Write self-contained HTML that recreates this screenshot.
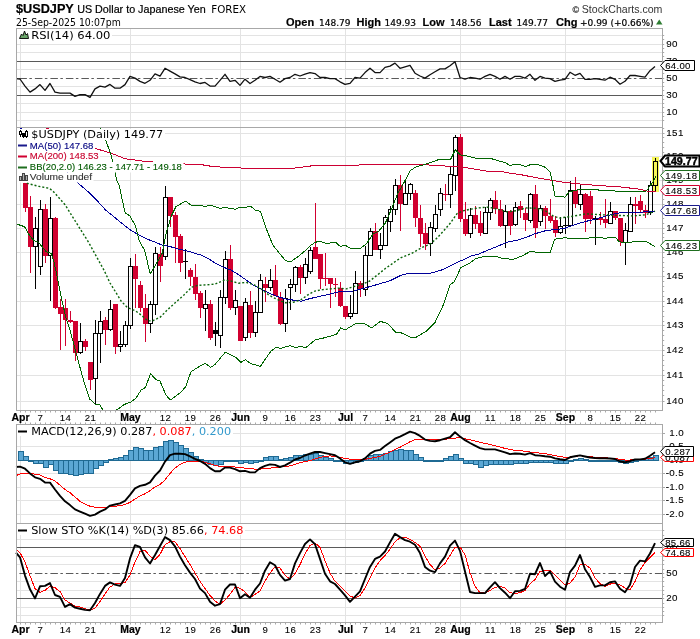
<!DOCTYPE html>
<html><head><meta charset="utf-8"><title>$USDJPY chart</title>
<style>html,body{margin:0;padding:0;background:#fff;width:700px;height:639px;overflow:hidden}</style>
</head><body>
<svg width="700" height="639" viewBox="0 0 700 639" style="display:block">
<rect width="700" height="639" fill="#fff"/>
<text x="16" y="13" font-family="'Liberation Sans', Arial, sans-serif" font-size="12.7" font-weight="bold" fill="#000" stroke="#000" stroke-width="0.2" text-anchor="start">$USDJPY</text>
<text x="77.2" y="13" font-family="'Liberation Sans', Arial, sans-serif" font-size="10.75" font-weight="normal" fill="#000" stroke="#000" stroke-width="0.2" text-anchor="start">US Dollar to Japanese Yen</text>
<text x="211.3" y="12.9" font-family="'DejaVu Sans', sans-serif" font-size="9.6" font-weight="normal" fill="#000" stroke="#000" stroke-width="0.0" text-anchor="start" textLength="34.8" lengthAdjust="spacingAndGlyphs">FOREX</text>
<text x="572.6" y="12.6" font-family="'Liberation Sans', Arial, sans-serif" font-size="9" font-weight="normal" fill="#333" stroke="#333" stroke-width="0.2" text-anchor="start">&#169;</text>
<text x="581.8" y="12.8" font-family="'Liberation Sans', Arial, sans-serif" font-size="10.5" font-weight="normal" fill="#333" stroke="#333" stroke-width="0.0" text-anchor="start" textLength="80.6" lengthAdjust="spacingAndGlyphs">StockCharts.com</text>
<text x="16" y="25.6" font-family="'DejaVu Sans', sans-serif" font-size="9.6" font-weight="normal" fill="#000" stroke="#000" stroke-width="0.0" text-anchor="start" textLength="104.8" lengthAdjust="spacingAndGlyphs">25-Sep-2025 10:07pm</text>
<text x="286" y="25.6" font-family="'Liberation Sans', Arial, sans-serif" font-size="11" font-weight="bold" fill="#000" stroke="#000" stroke-width="0.2" text-anchor="start">Open</text>
<text x="319" y="25.6" font-family="'DejaVu Sans', sans-serif" font-size="9" font-weight="normal" fill="#000" stroke="#000" stroke-width="0.2" text-anchor="start">148.79</text>
<text x="356.5" y="25.6" font-family="'Liberation Sans', Arial, sans-serif" font-size="11" font-weight="bold" fill="#000" stroke="#000" stroke-width="0.2" text-anchor="start">High</text>
<text x="384.5" y="25.6" font-family="'DejaVu Sans', sans-serif" font-size="9" font-weight="normal" fill="#000" stroke="#000" stroke-width="0.2" text-anchor="start">149.93</text>
<text x="422.5" y="25.6" font-family="'Liberation Sans', Arial, sans-serif" font-size="11" font-weight="bold" fill="#000" stroke="#000" stroke-width="0.2" text-anchor="start">Low</text>
<text x="450" y="25.6" font-family="'DejaVu Sans', sans-serif" font-size="9" font-weight="normal" fill="#000" stroke="#000" stroke-width="0.2" text-anchor="start">148.56</text>
<text x="489" y="25.6" font-family="'Liberation Sans', Arial, sans-serif" font-size="11" font-weight="bold" fill="#000" stroke="#000" stroke-width="0.2" text-anchor="start">Last</text>
<text x="516.5" y="25.6" font-family="'DejaVu Sans', sans-serif" font-size="9" font-weight="normal" fill="#000" stroke="#000" stroke-width="0.2" text-anchor="start">149.77</text>
<text x="556" y="25.6" font-family="'Liberation Sans', Arial, sans-serif" font-size="11" font-weight="bold" fill="#000" stroke="#000" stroke-width="0.2" text-anchor="start">Chg</text>
<text x="580" y="25.6" font-family="'DejaVu Sans', sans-serif" font-size="9" font-weight="normal" fill="#000" stroke="#000" stroke-width="0.2" text-anchor="start">+0.99 (+0.66%)</text>
<polygon points="656,24.5 662.5,24.5 659.25,19.5" fill="#2e7d32"/>
<line x1="16" y1="35.5" x2="663" y2="35.5" stroke="#e3e3e3" stroke-width="1"/>
<line x1="16" y1="44.5" x2="663" y2="44.5" stroke="#e3e3e3" stroke-width="1"/>
<line x1="16" y1="52.5" x2="663" y2="52.5" stroke="#e3e3e3" stroke-width="1"/>
<line x1="16" y1="69.5" x2="663" y2="69.5" stroke="#e3e3e3" stroke-width="1"/>
<line x1="16" y1="86.5" x2="663" y2="86.5" stroke="#e3e3e3" stroke-width="1"/>
<line x1="16" y1="103.5" x2="663" y2="103.5" stroke="#e3e3e3" stroke-width="1"/>
<line x1="16" y1="112.5" x2="663" y2="112.5" stroke="#e3e3e3" stroke-width="1"/>
<line x1="16" y1="120.5" x2="663" y2="120.5" stroke="#e3e3e3" stroke-width="1"/>
<line x1="20.5" y1="28" x2="20.5" y2="128" stroke="#e3e3e3" stroke-width="1"/>
<line x1="130.5" y1="28" x2="130.5" y2="128" stroke="#e3e3e3" stroke-width="1"/>
<line x1="240.5" y1="28" x2="240.5" y2="128" stroke="#e3e3e3" stroke-width="1"/>
<line x1="345.5" y1="28" x2="345.5" y2="128" stroke="#e3e3e3" stroke-width="1"/>
<line x1="460.5" y1="28" x2="460.5" y2="128" stroke="#e3e3e3" stroke-width="1"/>
<line x1="565.5" y1="28" x2="565.5" y2="128" stroke="#e3e3e3" stroke-width="1"/>
<line x1="16" y1="401.5" x2="663" y2="401.5" stroke="#e3e3e3" stroke-width="1"/>
<line x1="16" y1="375.5" x2="663" y2="375.5" stroke="#e3e3e3" stroke-width="1"/>
<line x1="16" y1="350.5" x2="663" y2="350.5" stroke="#e3e3e3" stroke-width="1"/>
<line x1="16" y1="325.5" x2="663" y2="325.5" stroke="#e3e3e3" stroke-width="1"/>
<line x1="16" y1="301.5" x2="663" y2="301.5" stroke="#e3e3e3" stroke-width="1"/>
<line x1="16" y1="276.5" x2="663" y2="276.5" stroke="#e3e3e3" stroke-width="1"/>
<line x1="16" y1="252.5" x2="663" y2="252.5" stroke="#e3e3e3" stroke-width="1"/>
<line x1="16" y1="228.5" x2="663" y2="228.5" stroke="#e3e3e3" stroke-width="1"/>
<line x1="16" y1="204.5" x2="663" y2="204.5" stroke="#e3e3e3" stroke-width="1"/>
<line x1="16" y1="180.5" x2="663" y2="180.5" stroke="#e3e3e3" stroke-width="1"/>
<line x1="16" y1="156.5" x2="663" y2="156.5" stroke="#e3e3e3" stroke-width="1"/>
<line x1="16" y1="133.5" x2="663" y2="133.5" stroke="#e3e3e3" stroke-width="1"/>
<line x1="20.5" y1="127" x2="20.5" y2="411" stroke="#e3e3e3" stroke-width="1"/>
<line x1="130.5" y1="127" x2="130.5" y2="411" stroke="#e3e3e3" stroke-width="1"/>
<line x1="240.5" y1="127" x2="240.5" y2="411" stroke="#e3e3e3" stroke-width="1"/>
<line x1="345.5" y1="127" x2="345.5" y2="411" stroke="#e3e3e3" stroke-width="1"/>
<line x1="460.5" y1="127" x2="460.5" y2="411" stroke="#e3e3e3" stroke-width="1"/>
<line x1="565.5" y1="127" x2="565.5" y2="411" stroke="#e3e3e3" stroke-width="1"/>
<line x1="16" y1="433.5" x2="663" y2="433.5" stroke="#e3e3e3" stroke-width="1"/>
<line x1="16" y1="446.5" x2="663" y2="446.5" stroke="#e3e3e3" stroke-width="1"/>
<line x1="16" y1="460.5" x2="663" y2="460.5" stroke="#e3e3e3" stroke-width="1"/>
<line x1="16" y1="473.5" x2="663" y2="473.5" stroke="#e3e3e3" stroke-width="1"/>
<line x1="16" y1="487.5" x2="663" y2="487.5" stroke="#e3e3e3" stroke-width="1"/>
<line x1="16" y1="500.5" x2="663" y2="500.5" stroke="#e3e3e3" stroke-width="1"/>
<line x1="16" y1="514.5" x2="663" y2="514.5" stroke="#e3e3e3" stroke-width="1"/>
<line x1="20.5" y1="424" x2="20.5" y2="524" stroke="#e3e3e3" stroke-width="1"/>
<line x1="130.5" y1="424" x2="130.5" y2="524" stroke="#e3e3e3" stroke-width="1"/>
<line x1="240.5" y1="424" x2="240.5" y2="524" stroke="#e3e3e3" stroke-width="1"/>
<line x1="345.5" y1="424" x2="345.5" y2="524" stroke="#e3e3e3" stroke-width="1"/>
<line x1="460.5" y1="424" x2="460.5" y2="524" stroke="#e3e3e3" stroke-width="1"/>
<line x1="565.5" y1="424" x2="565.5" y2="524" stroke="#e3e3e3" stroke-width="1"/>
<line x1="16" y1="530.5" x2="663" y2="530.5" stroke="#e3e3e3" stroke-width="1"/>
<line x1="16" y1="539.5" x2="663" y2="539.5" stroke="#e3e3e3" stroke-width="1"/>
<line x1="16" y1="556.5" x2="663" y2="556.5" stroke="#e3e3e3" stroke-width="1"/>
<line x1="16" y1="564.5" x2="663" y2="564.5" stroke="#e3e3e3" stroke-width="1"/>
<line x1="16" y1="581.5" x2="663" y2="581.5" stroke="#e3e3e3" stroke-width="1"/>
<line x1="16" y1="590.5" x2="663" y2="590.5" stroke="#e3e3e3" stroke-width="1"/>
<line x1="16" y1="607.5" x2="663" y2="607.5" stroke="#e3e3e3" stroke-width="1"/>
<line x1="16" y1="615.5" x2="663" y2="615.5" stroke="#e3e3e3" stroke-width="1"/>
<line x1="20.5" y1="523" x2="20.5" y2="623" stroke="#e3e3e3" stroke-width="1"/>
<line x1="130.5" y1="523" x2="130.5" y2="623" stroke="#e3e3e3" stroke-width="1"/>
<line x1="240.5" y1="523" x2="240.5" y2="623" stroke="#e3e3e3" stroke-width="1"/>
<line x1="345.5" y1="523" x2="345.5" y2="623" stroke="#e3e3e3" stroke-width="1"/>
<line x1="460.5" y1="523" x2="460.5" y2="623" stroke="#e3e3e3" stroke-width="1"/>
<line x1="565.5" y1="523" x2="565.5" y2="623" stroke="#e3e3e3" stroke-width="1"/>
<line x1="16" y1="61.5" x2="663" y2="61.5" stroke="#5a5a5a" stroke-width="1"/>
<line x1="16" y1="95.5" x2="663" y2="95.5" stroke="#5a5a5a" stroke-width="1"/>
<line x1="16" y1="78.5" x2="663" y2="78.5" stroke="#5a5a5a" stroke-width="1" stroke-dasharray="7.5,2.5,2.5,3" stroke-dashoffset="12.1"/>
<polyline points="16.0,78.6 20.0,79.0 25.0,86.1 30.0,92.1 35.0,88.9 40.0,84.6 45.0,90.4 50.0,83.5 55.0,92.1 60.0,93.1 65.0,93.1 70.0,93.1 75.0,96.4 80.0,94.6 85.0,94.6 90.0,97.4 95.0,88.9 100.0,86.1 105.0,87.1 110.0,84.4 115.0,88.2 120.0,88.2 125.0,84.6 130.0,76.4 135.0,78.1 140.0,81.4 145.0,83.3 150.0,80.3 155.0,73.9 160.0,76.2 165.0,68.3 170.0,71.1 175.0,73.9 180.0,76.9 185.0,77.5 190.0,79.6 195.0,81.8 200.0,83.5 205.0,82.4 210.0,86.1 215.0,86.1 220.0,80.3 225.0,74.3 230.0,81.4 235.0,80.3 240.0,85.4 245.0,79.2 250.0,83.5 255.0,80.3 260.0,76.4 265.0,77.5 270.0,76.4 275.0,79.2 280.0,82.2 285.0,78.6 290.0,77.5 295.0,74.3 300.0,76.0 305.0,74.1 310.0,72.6 315.0,73.6 320.0,77.5 325.0,77.5 330.0,78.6 335.0,78.6 340.0,81.8 345.0,84.4 350.0,83.3 355.0,77.5 360.0,78.1 365.0,72.6 370.0,68.3 375.0,72.6 380.0,72.6 385.0,67.4 390.0,66.1 395.0,63.1 400.0,68.3 405.0,66.8 410.0,65.3 415.0,73.2 420.0,76.0 425.0,78.1 430.0,74.7 435.0,71.7 440.0,68.9 445.0,68.9 450.0,65.7 455.0,61.7 460.0,77.5 465.0,79.2 470.0,77.5 475.0,78.1 480.0,79.2 485.0,76.4 490.0,74.3 495.0,76.4 500.0,79.2 505.0,76.4 510.0,79.2 515.0,76.4 520.0,76.4 525.0,78.1 530.0,74.3 535.0,80.3 540.0,76.4 545.0,78.1 550.0,78.6 555.0,81.4 560.0,80.2 565.0,79.3 570.0,72.3 575.0,75.3 580.0,73.3 585.0,79.3 590.0,79.3 595.0,78.7 600.0,79.3 605.0,80.2 610.0,77.2 615.0,79.3 620.0,84.2 625.0,81.2 630.0,75.5 635.0,75.5 640.0,76.3 645.0,77.2 650.0,70.7 655.0,66.4" fill="none" stroke="#111" stroke-width="1.3" stroke-linejoin="round" shape-rendering="geometricPrecision"/>
<clipPath id="cm"><rect x="17" y="128" width="645" height="282"/></clipPath>
<g clip-path="url(#cm)">
<rect x="652" y="157" width="7" height="35" fill="#f7f75a"/>
<line x1="25.5" y1="183" x2="25.5" y2="212" stroke="#d10030" stroke-width="1"/>
<rect x="23" y="183" width="5" height="25" fill="#d10030"/>
<line x1="30.5" y1="196" x2="30.5" y2="273" stroke="#d10030" stroke-width="1"/>
<rect x="28" y="207" width="5" height="40" fill="#d10030"/>
<line x1="35.5" y1="217" x2="35.5" y2="228" stroke="#000" stroke-width="1"/>
<line x1="35.5" y1="247" x2="35.5" y2="289" stroke="#000" stroke-width="1"/>
<rect x="33.5" y="228.5" width="4" height="18" fill="none" stroke="#000" stroke-width="1"/>
<line x1="40.5" y1="200" x2="40.5" y2="209" stroke="#000" stroke-width="1"/>
<line x1="40.5" y1="267" x2="40.5" y2="275" stroke="#000" stroke-width="1"/>
<rect x="38.5" y="209.5" width="4" height="57" fill="none" stroke="#000" stroke-width="1"/>
<line x1="45.5" y1="204" x2="45.5" y2="263" stroke="#d10030" stroke-width="1"/>
<rect x="43" y="209" width="5" height="47" fill="#d10030"/>
<line x1="50.5" y1="197" x2="50.5" y2="218" stroke="#000" stroke-width="1"/>
<line x1="50.5" y1="256" x2="50.5" y2="301" stroke="#000" stroke-width="1"/>
<rect x="48.5" y="218.5" width="4" height="37" fill="none" stroke="#000" stroke-width="1"/>
<line x1="55.5" y1="217" x2="55.5" y2="309" stroke="#d10030" stroke-width="1"/>
<rect x="53" y="218" width="5" height="90" fill="#d10030"/>
<line x1="60.5" y1="299" x2="60.5" y2="350" stroke="#d10030" stroke-width="1"/>
<rect x="58" y="307" width="5" height="7" fill="#d10030"/>
<line x1="65.5" y1="299" x2="65.5" y2="346" stroke="#d10030" stroke-width="1"/>
<rect x="63" y="308" width="5" height="12" fill="#d10030"/>
<line x1="70.5" y1="311" x2="70.5" y2="323" stroke="#d10030" stroke-width="1"/>
<rect x="68" y="320" width="5" height="2" fill="#d10030"/>
<line x1="75.5" y1="321" x2="75.5" y2="361" stroke="#d10030" stroke-width="1"/>
<rect x="73" y="321" width="5" height="32" fill="#d10030"/>
<line x1="80.5" y1="323" x2="80.5" y2="341" stroke="#000" stroke-width="1"/>
<line x1="80.5" y1="353" x2="80.5" y2="354" stroke="#000" stroke-width="1"/>
<rect x="78.5" y="341.5" width="4" height="11" fill="none" stroke="#000" stroke-width="1"/>
<line x1="85.5" y1="339" x2="85.5" y2="351" stroke="#d10030" stroke-width="1"/>
<rect x="83" y="341" width="5" height="6" fill="#d10030"/>
<line x1="90.5" y1="362" x2="90.5" y2="390" stroke="#d10030" stroke-width="1"/>
<rect x="88" y="362" width="5" height="18" fill="#d10030"/>
<line x1="95.5" y1="320" x2="95.5" y2="333" stroke="#000" stroke-width="1"/>
<line x1="95.5" y1="379" x2="95.5" y2="404" stroke="#000" stroke-width="1"/>
<rect x="93.5" y="333.5" width="4" height="45" fill="none" stroke="#000" stroke-width="1"/>
<line x1="100.5" y1="311" x2="100.5" y2="321" stroke="#000" stroke-width="1"/>
<line x1="100.5" y1="334" x2="100.5" y2="363" stroke="#000" stroke-width="1"/>
<rect x="98.5" y="321.5" width="4" height="12" fill="none" stroke="#000" stroke-width="1"/>
<line x1="105.5" y1="317" x2="105.5" y2="345" stroke="#d10030" stroke-width="1"/>
<rect x="103" y="320" width="5" height="10" fill="#d10030"/>
<line x1="110.5" y1="300" x2="110.5" y2="309" stroke="#000" stroke-width="1"/>
<line x1="110.5" y1="330" x2="110.5" y2="331" stroke="#000" stroke-width="1"/>
<rect x="108.5" y="309.5" width="4" height="20" fill="none" stroke="#000" stroke-width="1"/>
<line x1="115.5" y1="304" x2="115.5" y2="354" stroke="#d10030" stroke-width="1"/>
<rect x="113" y="304" width="5" height="43" fill="#d10030"/>
<line x1="120.5" y1="331" x2="120.5" y2="344" stroke="#000" stroke-width="1"/>
<line x1="120.5" y1="347" x2="120.5" y2="352" stroke="#000" stroke-width="1"/>
<rect x="118.5" y="344.5" width="4" height="2" fill="none" stroke="#000" stroke-width="1"/>
<line x1="125.5" y1="321" x2="125.5" y2="325" stroke="#000" stroke-width="1"/>
<line x1="125.5" y1="345" x2="125.5" y2="347" stroke="#000" stroke-width="1"/>
<rect x="123.5" y="325.5" width="4" height="19" fill="none" stroke="#000" stroke-width="1"/>
<line x1="130.5" y1="258" x2="130.5" y2="266" stroke="#000" stroke-width="1"/>
<line x1="130.5" y1="326" x2="130.5" y2="329" stroke="#000" stroke-width="1"/>
<rect x="128.5" y="266.5" width="4" height="59" fill="none" stroke="#000" stroke-width="1"/>
<line x1="135.5" y1="254" x2="135.5" y2="308" stroke="#d10030" stroke-width="1"/>
<rect x="133" y="266" width="5" height="13" fill="#d10030"/>
<line x1="140.5" y1="281" x2="140.5" y2="312" stroke="#d10030" stroke-width="1"/>
<rect x="138" y="285" width="5" height="23" fill="#d10030"/>
<line x1="145.5" y1="294" x2="145.5" y2="342" stroke="#d10030" stroke-width="1"/>
<rect x="143" y="308" width="5" height="16" fill="#d10030"/>
<line x1="150.5" y1="301" x2="150.5" y2="304" stroke="#000" stroke-width="1"/>
<line x1="150.5" y1="324" x2="150.5" y2="333" stroke="#000" stroke-width="1"/>
<rect x="148.5" y="304.5" width="4" height="19" fill="none" stroke="#000" stroke-width="1"/>
<line x1="155.5" y1="247" x2="155.5" y2="253" stroke="#000" stroke-width="1"/>
<line x1="155.5" y1="305" x2="155.5" y2="315" stroke="#000" stroke-width="1"/>
<rect x="153.5" y="253.5" width="4" height="51" fill="none" stroke="#000" stroke-width="1"/>
<line x1="160.5" y1="247" x2="160.5" y2="282" stroke="#d10030" stroke-width="1"/>
<rect x="158" y="254" width="5" height="12" fill="#d10030"/>
<line x1="165.5" y1="186" x2="165.5" y2="197" stroke="#000" stroke-width="1"/>
<line x1="165.5" y1="257" x2="165.5" y2="260" stroke="#000" stroke-width="1"/>
<rect x="163.5" y="197.5" width="4" height="59" fill="none" stroke="#000" stroke-width="1"/>
<line x1="170.5" y1="197" x2="170.5" y2="227" stroke="#d10030" stroke-width="1"/>
<rect x="168" y="197" width="5" height="19" fill="#d10030"/>
<line x1="175.5" y1="212" x2="175.5" y2="263" stroke="#d10030" stroke-width="1"/>
<rect x="173" y="215" width="5" height="22" fill="#d10030"/>
<line x1="180.5" y1="234" x2="180.5" y2="272" stroke="#d10030" stroke-width="1"/>
<rect x="178" y="236" width="5" height="27" fill="#d10030"/>
<line x1="185.5" y1="249" x2="185.5" y2="279" stroke="#000" stroke-width="1"/>
<rect x="183" y="261" width="5" height="1" fill="#000"/>
<line x1="190.5" y1="268" x2="190.5" y2="286" stroke="#d10030" stroke-width="1"/>
<rect x="188" y="270" width="5" height="7" fill="#d10030"/>
<line x1="195.5" y1="264" x2="195.5" y2="300" stroke="#d10030" stroke-width="1"/>
<rect x="193" y="277" width="5" height="17" fill="#d10030"/>
<line x1="200.5" y1="291" x2="200.5" y2="318" stroke="#d10030" stroke-width="1"/>
<rect x="198" y="293" width="5" height="15" fill="#d10030"/>
<line x1="205.5" y1="290" x2="205.5" y2="304" stroke="#000" stroke-width="1"/>
<line x1="205.5" y1="309" x2="205.5" y2="331" stroke="#000" stroke-width="1"/>
<rect x="203.5" y="304.5" width="4" height="4" fill="none" stroke="#000" stroke-width="1"/>
<line x1="210.5" y1="300" x2="210.5" y2="340" stroke="#d10030" stroke-width="1"/>
<rect x="208" y="304" width="5" height="34" fill="#d10030"/>
<line x1="215.5" y1="322" x2="215.5" y2="346" stroke="#000" stroke-width="1"/>
<rect x="213" y="330" width="5" height="4" fill="#000"/>
<line x1="220.5" y1="290" x2="220.5" y2="297" stroke="#000" stroke-width="1"/>
<line x1="220.5" y1="336" x2="220.5" y2="348" stroke="#000" stroke-width="1"/>
<rect x="218.5" y="297.5" width="4" height="38" fill="none" stroke="#000" stroke-width="1"/>
<line x1="225.5" y1="251" x2="225.5" y2="259" stroke="#000" stroke-width="1"/>
<line x1="225.5" y1="298" x2="225.5" y2="304" stroke="#000" stroke-width="1"/>
<rect x="223.5" y="259.5" width="4" height="38" fill="none" stroke="#000" stroke-width="1"/>
<line x1="230.5" y1="245" x2="230.5" y2="310" stroke="#d10030" stroke-width="1"/>
<rect x="228" y="259" width="5" height="49" fill="#d10030"/>
<line x1="235.5" y1="290" x2="235.5" y2="300" stroke="#000" stroke-width="1"/>
<line x1="235.5" y1="308" x2="235.5" y2="315" stroke="#000" stroke-width="1"/>
<rect x="233.5" y="300.5" width="4" height="7" fill="none" stroke="#000" stroke-width="1"/>
<line x1="240.5" y1="306" x2="240.5" y2="341" stroke="#d10030" stroke-width="1"/>
<rect x="238" y="306" width="5" height="35" fill="#d10030"/>
<line x1="245.5" y1="298" x2="245.5" y2="302" stroke="#000" stroke-width="1"/>
<line x1="245.5" y1="338" x2="245.5" y2="341" stroke="#000" stroke-width="1"/>
<rect x="243.5" y="302.5" width="4" height="35" fill="none" stroke="#000" stroke-width="1"/>
<line x1="250.5" y1="291" x2="250.5" y2="338" stroke="#d10030" stroke-width="1"/>
<rect x="248" y="305" width="5" height="28" fill="#d10030"/>
<line x1="255.5" y1="301" x2="255.5" y2="312" stroke="#000" stroke-width="1"/>
<line x1="255.5" y1="333" x2="255.5" y2="337" stroke="#000" stroke-width="1"/>
<rect x="253.5" y="312.5" width="4" height="20" fill="none" stroke="#000" stroke-width="1"/>
<line x1="260.5" y1="274" x2="260.5" y2="280" stroke="#000" stroke-width="1"/>
<rect x="258.5" y="280.5" width="4" height="32" fill="none" stroke="#000" stroke-width="1"/>
<line x1="265.5" y1="277" x2="265.5" y2="302" stroke="#d10030" stroke-width="1"/>
<rect x="263" y="284" width="5" height="4" fill="#d10030"/>
<line x1="270.5" y1="269" x2="270.5" y2="280" stroke="#000" stroke-width="1"/>
<line x1="270.5" y1="288" x2="270.5" y2="291" stroke="#000" stroke-width="1"/>
<rect x="268.5" y="280.5" width="4" height="7" fill="none" stroke="#000" stroke-width="1"/>
<line x1="275.5" y1="265" x2="275.5" y2="296" stroke="#d10030" stroke-width="1"/>
<rect x="273" y="280" width="5" height="16" fill="#d10030"/>
<line x1="280.5" y1="292" x2="280.5" y2="325" stroke="#d10030" stroke-width="1"/>
<rect x="278" y="297" width="5" height="27" fill="#d10030"/>
<line x1="285.5" y1="289" x2="285.5" y2="298" stroke="#000" stroke-width="1"/>
<line x1="285.5" y1="324" x2="285.5" y2="332" stroke="#000" stroke-width="1"/>
<rect x="283.5" y="298.5" width="4" height="25" fill="none" stroke="#000" stroke-width="1"/>
<line x1="290.5" y1="279" x2="290.5" y2="284" stroke="#000" stroke-width="1"/>
<line x1="290.5" y1="288" x2="290.5" y2="310" stroke="#000" stroke-width="1"/>
<rect x="288.5" y="284.5" width="4" height="3" fill="none" stroke="#000" stroke-width="1"/>
<line x1="295.5" y1="266" x2="295.5" y2="267" stroke="#000" stroke-width="1"/>
<line x1="295.5" y1="285" x2="295.5" y2="292" stroke="#000" stroke-width="1"/>
<rect x="293.5" y="267.5" width="4" height="17" fill="none" stroke="#000" stroke-width="1"/>
<line x1="300.5" y1="265" x2="300.5" y2="294" stroke="#d10030" stroke-width="1"/>
<rect x="298" y="267" width="5" height="11" fill="#d10030"/>
<line x1="305.5" y1="258" x2="305.5" y2="264" stroke="#000" stroke-width="1"/>
<line x1="305.5" y1="278" x2="305.5" y2="284" stroke="#000" stroke-width="1"/>
<rect x="303.5" y="264.5" width="4" height="13" fill="none" stroke="#000" stroke-width="1"/>
<line x1="310.5" y1="247" x2="310.5" y2="250" stroke="#000" stroke-width="1"/>
<line x1="310.5" y1="272" x2="310.5" y2="274" stroke="#000" stroke-width="1"/>
<rect x="308.5" y="250.5" width="4" height="21" fill="none" stroke="#000" stroke-width="1"/>
<line x1="315.5" y1="203" x2="315.5" y2="259" stroke="#d10030" stroke-width="1"/>
<rect x="313" y="247" width="5" height="12" fill="#d10030"/>
<line x1="320.5" y1="254" x2="320.5" y2="289" stroke="#d10030" stroke-width="1"/>
<rect x="318" y="254" width="5" height="25" fill="#d10030"/>
<line x1="325.5" y1="253" x2="325.5" y2="286" stroke="#d10030" stroke-width="1"/>
<rect x="323" y="278" width="5" height="1" fill="#d10030"/>
<line x1="330.5" y1="278" x2="330.5" y2="308" stroke="#d10030" stroke-width="1"/>
<rect x="328" y="278" width="5" height="6" fill="#d10030"/>
<line x1="335.5" y1="278" x2="335.5" y2="297" stroke="#d10030" stroke-width="1"/>
<rect x="333" y="284" width="5" height="1" fill="#d10030"/>
<line x1="340.5" y1="282" x2="340.5" y2="307" stroke="#d10030" stroke-width="1"/>
<rect x="338" y="288" width="5" height="18" fill="#d10030"/>
<line x1="345.5" y1="306" x2="345.5" y2="319" stroke="#d10030" stroke-width="1"/>
<rect x="343" y="306" width="5" height="11" fill="#d10030"/>
<line x1="350.5" y1="295" x2="350.5" y2="313" stroke="#000" stroke-width="1"/>
<line x1="350.5" y1="317" x2="350.5" y2="319" stroke="#000" stroke-width="1"/>
<rect x="348.5" y="313.5" width="4" height="3" fill="none" stroke="#000" stroke-width="1"/>
<line x1="355.5" y1="271" x2="355.5" y2="283" stroke="#000" stroke-width="1"/>
<rect x="353.5" y="283.5" width="4" height="30" fill="none" stroke="#000" stroke-width="1"/>
<line x1="360.5" y1="281" x2="360.5" y2="297" stroke="#d10030" stroke-width="1"/>
<rect x="358" y="283" width="5" height="6" fill="#d10030"/>
<line x1="365.5" y1="246" x2="365.5" y2="255" stroke="#000" stroke-width="1"/>
<line x1="365.5" y1="290" x2="365.5" y2="296" stroke="#000" stroke-width="1"/>
<rect x="363.5" y="255.5" width="4" height="34" fill="none" stroke="#000" stroke-width="1"/>
<line x1="370.5" y1="228" x2="370.5" y2="231" stroke="#000" stroke-width="1"/>
<rect x="368.5" y="231.5" width="4" height="24" fill="none" stroke="#000" stroke-width="1"/>
<line x1="375.5" y1="223" x2="375.5" y2="250" stroke="#d10030" stroke-width="1"/>
<rect x="373" y="231" width="5" height="19" fill="#d10030"/>
<line x1="380.5" y1="233" x2="380.5" y2="245" stroke="#000" stroke-width="1"/>
<line x1="380.5" y1="250" x2="380.5" y2="259" stroke="#000" stroke-width="1"/>
<rect x="378.5" y="245.5" width="4" height="4" fill="none" stroke="#000" stroke-width="1"/>
<line x1="385.5" y1="215" x2="385.5" y2="217" stroke="#000" stroke-width="1"/>
<rect x="383.5" y="217.5" width="4" height="28" fill="none" stroke="#000" stroke-width="1"/>
<line x1="390.5" y1="206" x2="390.5" y2="209" stroke="#000" stroke-width="1"/>
<line x1="390.5" y1="222" x2="390.5" y2="232" stroke="#000" stroke-width="1"/>
<rect x="388.5" y="209.5" width="4" height="12" fill="none" stroke="#000" stroke-width="1"/>
<line x1="395.5" y1="179" x2="395.5" y2="185" stroke="#000" stroke-width="1"/>
<line x1="395.5" y1="210" x2="395.5" y2="215" stroke="#000" stroke-width="1"/>
<rect x="393.5" y="185.5" width="4" height="24" fill="none" stroke="#000" stroke-width="1"/>
<line x1="400.5" y1="175" x2="400.5" y2="231" stroke="#d10030" stroke-width="1"/>
<rect x="398" y="185" width="5" height="19" fill="#d10030"/>
<line x1="405.5" y1="179" x2="405.5" y2="193" stroke="#000" stroke-width="1"/>
<rect x="403.5" y="193.5" width="4" height="11" fill="none" stroke="#000" stroke-width="1"/>
<line x1="410.5" y1="183" x2="410.5" y2="184" stroke="#000" stroke-width="1"/>
<line x1="410.5" y1="194" x2="410.5" y2="200" stroke="#000" stroke-width="1"/>
<rect x="408.5" y="184.5" width="4" height="9" fill="none" stroke="#000" stroke-width="1"/>
<line x1="415.5" y1="190" x2="415.5" y2="227" stroke="#d10030" stroke-width="1"/>
<rect x="413" y="193" width="5" height="25" fill="#d10030"/>
<line x1="420.5" y1="205" x2="420.5" y2="247" stroke="#d10030" stroke-width="1"/>
<rect x="418" y="218" width="5" height="16" fill="#d10030"/>
<line x1="425.5" y1="223" x2="425.5" y2="250" stroke="#d10030" stroke-width="1"/>
<rect x="423" y="233" width="5" height="11" fill="#d10030"/>
<line x1="430.5" y1="222" x2="430.5" y2="227" stroke="#000" stroke-width="1"/>
<line x1="430.5" y1="244" x2="430.5" y2="256" stroke="#000" stroke-width="1"/>
<rect x="428.5" y="227.5" width="4" height="16" fill="none" stroke="#000" stroke-width="1"/>
<line x1="435.5" y1="205" x2="435.5" y2="214" stroke="#000" stroke-width="1"/>
<line x1="435.5" y1="229" x2="435.5" y2="232" stroke="#000" stroke-width="1"/>
<rect x="433.5" y="214.5" width="4" height="14" fill="none" stroke="#000" stroke-width="1"/>
<line x1="440.5" y1="188" x2="440.5" y2="193" stroke="#000" stroke-width="1"/>
<line x1="440.5" y1="210" x2="440.5" y2="216" stroke="#000" stroke-width="1"/>
<rect x="438.5" y="193.5" width="4" height="16" fill="none" stroke="#000" stroke-width="1"/>
<line x1="445.5" y1="184" x2="445.5" y2="201" stroke="#d10030" stroke-width="1"/>
<rect x="443" y="194" width="5" height="1" fill="#d10030"/>
<line x1="450.5" y1="167" x2="450.5" y2="174" stroke="#000" stroke-width="1"/>
<line x1="450.5" y1="195" x2="450.5" y2="208" stroke="#000" stroke-width="1"/>
<rect x="448.5" y="174.5" width="4" height="20" fill="none" stroke="#000" stroke-width="1"/>
<line x1="455.5" y1="135" x2="455.5" y2="137" stroke="#000" stroke-width="1"/>
<line x1="455.5" y1="176" x2="455.5" y2="191" stroke="#000" stroke-width="1"/>
<rect x="453.5" y="137.5" width="4" height="38" fill="none" stroke="#000" stroke-width="1"/>
<line x1="460.5" y1="134" x2="460.5" y2="222" stroke="#d10030" stroke-width="1"/>
<rect x="458" y="137" width="5" height="82" fill="#d10030"/>
<line x1="465.5" y1="202" x2="465.5" y2="236" stroke="#d10030" stroke-width="1"/>
<rect x="463" y="219" width="5" height="15" fill="#d10030"/>
<line x1="470.5" y1="208" x2="470.5" y2="215" stroke="#000" stroke-width="1"/>
<line x1="470.5" y1="234" x2="470.5" y2="238" stroke="#000" stroke-width="1"/>
<rect x="468.5" y="215.5" width="4" height="18" fill="none" stroke="#000" stroke-width="1"/>
<line x1="475.5" y1="206" x2="475.5" y2="229" stroke="#d10030" stroke-width="1"/>
<rect x="473" y="215" width="5" height="9" fill="#d10030"/>
<line x1="480.5" y1="211" x2="480.5" y2="236" stroke="#d10030" stroke-width="1"/>
<rect x="478" y="223" width="5" height="10" fill="#d10030"/>
<line x1="485.5" y1="207" x2="485.5" y2="212" stroke="#000" stroke-width="1"/>
<rect x="483.5" y="212.5" width="4" height="21" fill="none" stroke="#000" stroke-width="1"/>
<line x1="490.5" y1="198" x2="490.5" y2="200" stroke="#000" stroke-width="1"/>
<line x1="490.5" y1="213" x2="490.5" y2="220" stroke="#000" stroke-width="1"/>
<rect x="488.5" y="200.5" width="4" height="12" fill="none" stroke="#000" stroke-width="1"/>
<line x1="495.5" y1="191" x2="495.5" y2="214" stroke="#d10030" stroke-width="1"/>
<rect x="493" y="200" width="5" height="9" fill="#d10030"/>
<line x1="500.5" y1="200" x2="500.5" y2="227" stroke="#d10030" stroke-width="1"/>
<rect x="498" y="209" width="5" height="17" fill="#d10030"/>
<line x1="505.5" y1="205" x2="505.5" y2="211" stroke="#000" stroke-width="1"/>
<line x1="505.5" y1="226" x2="505.5" y2="248" stroke="#000" stroke-width="1"/>
<rect x="503.5" y="211.5" width="4" height="14" fill="none" stroke="#000" stroke-width="1"/>
<line x1="510.5" y1="210" x2="510.5" y2="235" stroke="#d10030" stroke-width="1"/>
<rect x="508" y="211" width="5" height="15" fill="#d10030"/>
<line x1="515.5" y1="202" x2="515.5" y2="207" stroke="#000" stroke-width="1"/>
<line x1="515.5" y1="225" x2="515.5" y2="226" stroke="#000" stroke-width="1"/>
<rect x="513.5" y="207.5" width="4" height="17" fill="none" stroke="#000" stroke-width="1"/>
<line x1="520.5" y1="201" x2="520.5" y2="218" stroke="#d10030" stroke-width="1"/>
<rect x="518" y="206" width="5" height="4" fill="#d10030"/>
<line x1="525.5" y1="208" x2="525.5" y2="231" stroke="#d10030" stroke-width="1"/>
<rect x="523" y="213" width="5" height="7" fill="#d10030"/>
<line x1="530.5" y1="193" x2="530.5" y2="194" stroke="#000" stroke-width="1"/>
<line x1="530.5" y1="221" x2="530.5" y2="223" stroke="#000" stroke-width="1"/>
<rect x="528.5" y="194.5" width="4" height="26" fill="none" stroke="#000" stroke-width="1"/>
<line x1="535.5" y1="185" x2="535.5" y2="238" stroke="#d10030" stroke-width="1"/>
<rect x="533" y="194" width="5" height="34" fill="#d10030"/>
<line x1="540.5" y1="205" x2="540.5" y2="208" stroke="#000" stroke-width="1"/>
<line x1="540.5" y1="222" x2="540.5" y2="226" stroke="#000" stroke-width="1"/>
<rect x="538.5" y="208.5" width="4" height="13" fill="none" stroke="#000" stroke-width="1"/>
<line x1="545.5" y1="206" x2="545.5" y2="229" stroke="#d10030" stroke-width="1"/>
<rect x="543" y="208" width="5" height="8" fill="#d10030"/>
<line x1="550.5" y1="199" x2="550.5" y2="223" stroke="#d10030" stroke-width="1"/>
<rect x="548" y="216" width="5" height="5" fill="#d10030"/>
<line x1="555.5" y1="216" x2="555.5" y2="237" stroke="#d10030" stroke-width="1"/>
<rect x="553" y="220" width="5" height="13" fill="#d10030"/>
<line x1="560.5" y1="217" x2="560.5" y2="226" stroke="#000" stroke-width="1"/>
<line x1="560.5" y1="233" x2="560.5" y2="234" stroke="#000" stroke-width="1"/>
<rect x="558.5" y="226.5" width="4" height="6" fill="none" stroke="#000" stroke-width="1"/>
<line x1="565.5" y1="217" x2="565.5" y2="225" stroke="#000" stroke-width="1"/>
<line x1="565.5" y1="226" x2="565.5" y2="234" stroke="#000" stroke-width="1"/>
<rect x="563" y="225" width="5" height="1" fill="#000"/>
<line x1="570.5" y1="181" x2="570.5" y2="190" stroke="#000" stroke-width="1"/>
<rect x="568.5" y="190.5" width="4" height="35" fill="none" stroke="#000" stroke-width="1"/>
<line x1="575.5" y1="177" x2="575.5" y2="208" stroke="#d10030" stroke-width="1"/>
<rect x="573" y="190" width="5" height="14" fill="#d10030"/>
<line x1="580.5" y1="185" x2="580.5" y2="194" stroke="#000" stroke-width="1"/>
<line x1="580.5" y1="205" x2="580.5" y2="210" stroke="#000" stroke-width="1"/>
<rect x="578.5" y="194.5" width="4" height="10" fill="none" stroke="#000" stroke-width="1"/>
<line x1="585.5" y1="193" x2="585.5" y2="232" stroke="#d10030" stroke-width="1"/>
<rect x="583" y="194" width="5" height="25" fill="#d10030"/>
<line x1="590.5" y1="191" x2="590.5" y2="224" stroke="#d10030" stroke-width="1"/>
<rect x="588" y="196" width="5" height="23" fill="#d10030"/>
<line x1="595.5" y1="216" x2="595.5" y2="245" stroke="#000" stroke-width="1"/>
<rect x="593" y="218" width="5" height="2" fill="#000"/>
<line x1="600.5" y1="212" x2="600.5" y2="225" stroke="#d10030" stroke-width="1"/>
<rect x="598" y="218" width="5" height="2" fill="#d10030"/>
<line x1="605.5" y1="199" x2="605.5" y2="228" stroke="#d10030" stroke-width="1"/>
<rect x="603" y="219" width="5" height="4" fill="#d10030"/>
<line x1="610.5" y1="202" x2="610.5" y2="211" stroke="#000" stroke-width="1"/>
<rect x="608.5" y="211.5" width="4" height="12" fill="none" stroke="#000" stroke-width="1"/>
<line x1="615.5" y1="211" x2="615.5" y2="220" stroke="#d10030" stroke-width="1"/>
<rect x="613" y="211" width="5" height="7" fill="#d10030"/>
<line x1="620.5" y1="218" x2="620.5" y2="246" stroke="#d10030" stroke-width="1"/>
<rect x="618" y="218" width="5" height="24" fill="#d10030"/>
<line x1="625.5" y1="223" x2="625.5" y2="230" stroke="#000" stroke-width="1"/>
<line x1="625.5" y1="243" x2="625.5" y2="265" stroke="#000" stroke-width="1"/>
<rect x="623.5" y="230.5" width="4" height="12" fill="none" stroke="#000" stroke-width="1"/>
<line x1="630.5" y1="197" x2="630.5" y2="204" stroke="#000" stroke-width="1"/>
<rect x="628.5" y="204.5" width="4" height="27" fill="none" stroke="#000" stroke-width="1"/>
<line x1="635.5" y1="197" x2="635.5" y2="224" stroke="#d10030" stroke-width="1"/>
<rect x="633" y="204" width="5" height="2" fill="#d10030"/>
<line x1="640.5" y1="195" x2="640.5" y2="212" stroke="#d10030" stroke-width="1"/>
<rect x="638" y="201" width="5" height="9" fill="#d10030"/>
<line x1="645.5" y1="205" x2="645.5" y2="218" stroke="#d10030" stroke-width="1"/>
<rect x="643" y="210" width="5" height="3" fill="#d10030"/>
<line x1="650.5" y1="181" x2="650.5" y2="185" stroke="#000" stroke-width="1"/>
<line x1="650.5" y1="213" x2="650.5" y2="215" stroke="#000" stroke-width="1"/>
<rect x="648.5" y="185.5" width="4" height="27" fill="none" stroke="#000" stroke-width="1"/>
<line x1="655.5" y1="158" x2="655.5" y2="161" stroke="#000" stroke-width="1"/>
<line x1="655.5" y1="186" x2="655.5" y2="191" stroke="#000" stroke-width="1"/>
<rect x="653.5" y="161.5" width="4" height="24" fill="none" stroke="#000" stroke-width="1"/>
</g>
<g clip-path="url(#cm)">
<polyline points="16.0,116.0 45.0,127.5 70.0,138.5 95.1,148.4 109.7,152.7 125.1,158.7 144.0,161.3 165.0,163.0 184.6,164.0 201.7,164.7 213.7,166.7 242.8,168.1 294.3,168.1 318.3,165.0 359.4,165.0 366.3,164.3 420.0,164.6 440.1,165.5 451.1,166.6 465.0,167.4 477.6,169.6 490.1,171.6 500.0,171.2 510.0,173.2 520.0,174.5 530.0,176.5 540.0,178.3 550.0,180.0 560.0,181.8 570.6,183.0 586.3,184.6 601.9,185.7 617.6,186.8 625.0,187.3 630.1,188.1 635.3,188.6 640.4,189.3 645.6,190.6 648.1,191.4 655.6,191.4" fill="none" stroke="#cc0033" stroke-width="1" stroke-linejoin="round" shape-rendering="crispEdges"/>
<polyline points="16.0,124.0 20.0,127.5 40.0,145.0 60.0,165.0 78.0,183.0 88.6,192.2 99.5,203.2 105.8,210.2 115.0,217.6 124.4,225.4 130.6,230.1 138.5,234.8 146.3,238.7 154.1,241.8 162.0,245.0 169.8,246.5 177.6,248.9 185.4,250.4 193.2,252.8 201.1,255.1 208.9,259.0 215.0,262.9 224.4,267.6 230.6,269.9 238.5,274.6 246.3,280.1 254.1,285.6 262.0,289.5 269.8,293.4 277.6,296.5 285.4,298.9 293.2,300.1 301.1,301.2 308.9,298.9 315.0,297.4 327.9,294.6 340.7,291.4 353.6,291.0 366.4,287.6 379.3,283.9 390.0,280.7 400.7,275.4 409.3,273.2 430.7,273.2 441.6,270.0 449.3,266.3 457.0,262.4 463.5,259.7 470.0,256.4 478.8,254.0 488.2,250.1 497.6,246.2 507.0,242.3 516.3,240.4 525.7,237.6 535.1,233.7 544.5,231.0 553.9,229.5 560.0,229.0 564.4,228.4 575.3,224.5 586.3,221.3 595.7,219.0 606.6,215.9 617.6,213.2 628.6,212.0 642.6,212.0 655.0,211.5" fill="none" stroke="#000099" stroke-width="1" stroke-linejoin="round" shape-rendering="crispEdges"/>
<polyline points="16.0,112.0 45.0,128.0 70.0,116.0 99.4,127.0 105.4,139.0 111.4,156.1 114.9,171.6 116.6,180.0 119.1,185.3 125.1,212.7 129.9,216.0 135.3,225.4 139.3,241.0 144.7,250.4 150.2,273.9 155.7,264.5 162.0,253.6 166.6,231.6 171.3,216.0 176.0,206.6 185.4,201.1 190.9,205.0 200.0,205.3 205.1,206.5 210.3,205.3 214.9,206.5 220.0,208.4 225.1,207.3 230.3,208.4 235.4,209.3 240.0,207.3 245.7,207.3 250.3,206.1 255.4,210.1 260.6,211.5 265.7,227.3 272.6,244.4 274.5,247.2 285.4,260.5 290.1,262.1 298.0,256.6 305.8,250.3 310.6,245.4 315.3,242.3 320.0,241.1 324.7,243.0 330.2,243.0 335.7,242.3 340.4,246.6 345.0,245.2 350.2,248.2 360.4,248.5 366.6,243.5 372.9,234.1 379.1,230.8 385.3,223.0 391.6,208.9 397.9,193.2 404.1,182.3 410.4,170.5 416.6,166.6 424.5,164.7 432.3,161.9 440.1,159.1 450.3,160.0 455.4,149.7 460.4,154.9 466.6,156.0 476.0,158.3 490.1,158.3 500.0,161.2 505.0,162.5 510.0,165.5 515.0,164.3 520.0,164.5 525.5,166.5 530.0,164.8 535.0,164.3 540.0,165.2 545.0,167.2 550.0,172.0 552.0,180.0 555.0,196.2 560.0,196.2 565.0,197.2 569.1,191.9 580.0,189.3 594.1,189.7 609.8,190.8 625.0,191.4 630.1,191.9 635.3,191.4 640.4,191.9 645.6,191.4 648.1,188.6 650.7,185.0 653.3,181.4 655.6,176.3" fill="none" stroke="#006400" stroke-width="1" stroke-linejoin="round" shape-rendering="crispEdges"/>
<polyline points="16.0,223.5 17.3,224.3 24.4,226.6 29.1,234.5 33.8,240.7 38.5,242.3 42.4,247.0 46.3,251.7 51.0,253.2 54.1,262.6 56.5,273.6 62.0,301.0 66.0,318.0 70.0,330.0 74.5,347.0 80.7,370.0 85.0,385.0 89.6,398.9 95.3,404.5 99.5,404.5 103.4,410.5 110.0,413.0 117.1,409.7 124.0,404.6 130.9,402.0 136.0,398.2 141.1,390.0 145.4,387.4 150.6,373.7 155.7,379.4 160.0,381.1 166.0,395.1 170.3,400.0 180.6,392.6 185.7,386.6 190.9,372.0 197.7,367.4 205.4,363.4 210.6,367.4 215.0,364.5 225.2,352.3 235.3,357.0 240.8,362.4 245.5,359.8 251.0,363.7 260.4,366.3 270.6,351.5 276.0,347.2 280.7,348.3 290.1,345.7 295.6,347.6 300.3,346.5 305.8,347.6 315.0,340.0 325.7,337.5 336.4,334.3 340.7,327.9 345.0,330.0 355.7,323.6 364.3,323.6 371.8,327.9 380.4,321.4 387.9,323.6 395.4,332.1 400.7,332.6 411.4,337.5 415.7,337.5 426.4,331.1 435.0,322.5 443.6,304.3 450.0,285.0 454.3,281.8 460.7,267.9 465.7,265.2 470.0,263.0 475.6,258.7 485.0,256.1 494.4,256.1 502.3,258.3 513.2,259.5 522.6,255.6 530.4,251.4 541.4,252.9 550.0,252.5 554.7,239.2 560.0,238.4 564.4,237.8 573.8,238.6 586.3,238.2 600.0,237.3 604.7,238.5 609.4,237.3 615.5,237.3 618.8,241.3 623.5,243.0 628.2,242.7 634.7,241.5 646.0,241.5 655.0,246.6" fill="none" stroke="#006400" stroke-width="1" stroke-linejoin="round" shape-rendering="crispEdges"/>
<polyline points="16.0,178.0 24.0,181.0 28.3,183.6 38.5,186.3 49.4,188.3 54.0,192.2 65.0,204.7 72.9,217.3 80.7,229.8 88.6,242.3 96.4,256.4 104.2,270.5 110.0,283.0 115.0,291.0 121.3,301.3 127.5,307.6 135.3,310.7 141.6,315.4 147.9,320.9 152.6,320.9 160.4,317.0 168.2,309.1 176.0,302.1 183.9,295.0 191.7,287.2 197.9,285.3 205.8,284.9 215.0,284.1 224.4,280.1 230.6,280.9 238.5,283.2 246.3,282.4 254.1,284.8 262.0,289.5 269.8,295.7 277.6,299.6 285.4,302.8 293.2,302.3 301.1,299.6 308.9,294.2 315.0,291.0 322.8,289.6 330.6,288.9 338.5,288.1 346.3,288.9 354.1,286.5 362.0,284.2 369.8,281.0 377.6,274.8 385.4,268.5 393.2,263.0 401.1,257.6 411.0,253.7 421.9,247.6 430.7,243.8 437.2,237.8 443.8,230.7 450.4,223.0 457.0,213.7 462.4,211.0 470.0,209.3 478.8,207.9 488.2,207.1 497.6,209.1 507.0,211.8 516.3,210.7 525.7,207.9 535.1,208.2 544.5,210.2 553.9,216.5 560.0,218.0 570.6,216.6 586.3,213.8 601.9,214.8 617.6,215.4 633.2,215.9 645.8,214.8 655.0,211.2" fill="none" stroke="#0a640a" stroke-width="1.4" stroke-linejoin="round" shape-rendering="geometricPrecision" stroke-dasharray="2,2"/>
</g>
<rect x="18.5" y="451.5" width="5" height="9" fill="#5ba7d4" stroke="#1f6a93" stroke-width="1" shape-rendering="crispEdges"/>
<rect x="23.5" y="456.5" width="5" height="4" fill="#5ba7d4" stroke="#1f6a93" stroke-width="1" shape-rendering="crispEdges"/>
<rect x="28.5" y="460.5" width="5" height="1" fill="#5ba7d4" stroke="#1f6a93" stroke-width="1" shape-rendering="crispEdges"/>
<rect x="33.5" y="460.5" width="5" height="3" fill="#5ba7d4" stroke="#1f6a93" stroke-width="1" shape-rendering="crispEdges"/>
<rect x="38.5" y="460.5" width="5" height="3" fill="#5ba7d4" stroke="#1f6a93" stroke-width="1" shape-rendering="crispEdges"/>
<rect x="43.5" y="460.5" width="5" height="7" fill="#5ba7d4" stroke="#1f6a93" stroke-width="1" shape-rendering="crispEdges"/>
<rect x="48.5" y="460.5" width="5" height="4" fill="#5ba7d4" stroke="#1f6a93" stroke-width="1" shape-rendering="crispEdges"/>
<rect x="53.5" y="460.5" width="5" height="10" fill="#5ba7d4" stroke="#1f6a93" stroke-width="1" shape-rendering="crispEdges"/>
<rect x="58.5" y="460.5" width="5" height="13" fill="#5ba7d4" stroke="#1f6a93" stroke-width="1" shape-rendering="crispEdges"/>
<rect x="63.5" y="460.5" width="5" height="13" fill="#5ba7d4" stroke="#1f6a93" stroke-width="1" shape-rendering="crispEdges"/>
<rect x="68.5" y="460.5" width="5" height="14" fill="#5ba7d4" stroke="#1f6a93" stroke-width="1" shape-rendering="crispEdges"/>
<rect x="73.5" y="460.5" width="5" height="15" fill="#5ba7d4" stroke="#1f6a93" stroke-width="1" shape-rendering="crispEdges"/>
<rect x="78.5" y="460.5" width="5" height="14" fill="#5ba7d4" stroke="#1f6a93" stroke-width="1" shape-rendering="crispEdges"/>
<rect x="83.5" y="460.5" width="5" height="13" fill="#5ba7d4" stroke="#1f6a93" stroke-width="1" shape-rendering="crispEdges"/>
<rect x="88.5" y="460.5" width="5" height="13" fill="#5ba7d4" stroke="#1f6a93" stroke-width="1" shape-rendering="crispEdges"/>
<rect x="93.5" y="460.5" width="5" height="8" fill="#5ba7d4" stroke="#1f6a93" stroke-width="1" shape-rendering="crispEdges"/>
<rect x="98.5" y="460.5" width="5" height="5" fill="#5ba7d4" stroke="#1f6a93" stroke-width="1" shape-rendering="crispEdges"/>
<rect x="103.5" y="460.5" width="5" height="2" fill="#5ba7d4" stroke="#1f6a93" stroke-width="1" shape-rendering="crispEdges"/>
<rect x="108.5" y="459.5" width="5" height="1" fill="#5ba7d4" stroke="#1f6a93" stroke-width="1" shape-rendering="crispEdges"/>
<rect x="113.5" y="458.5" width="5" height="2" fill="#5ba7d4" stroke="#1f6a93" stroke-width="1" shape-rendering="crispEdges"/>
<rect x="118.5" y="457.5" width="5" height="3" fill="#5ba7d4" stroke="#1f6a93" stroke-width="1" shape-rendering="crispEdges"/>
<rect x="123.5" y="455.5" width="5" height="5" fill="#5ba7d4" stroke="#1f6a93" stroke-width="1" shape-rendering="crispEdges"/>
<rect x="128.5" y="450.5" width="5" height="10" fill="#5ba7d4" stroke="#1f6a93" stroke-width="1" shape-rendering="crispEdges"/>
<rect x="133.5" y="447.5" width="5" height="13" fill="#5ba7d4" stroke="#1f6a93" stroke-width="1" shape-rendering="crispEdges"/>
<rect x="138.5" y="448.5" width="5" height="12" fill="#5ba7d4" stroke="#1f6a93" stroke-width="1" shape-rendering="crispEdges"/>
<rect x="143.5" y="450.5" width="5" height="10" fill="#5ba7d4" stroke="#1f6a93" stroke-width="1" shape-rendering="crispEdges"/>
<rect x="148.5" y="450.5" width="5" height="10" fill="#5ba7d4" stroke="#1f6a93" stroke-width="1" shape-rendering="crispEdges"/>
<rect x="153.5" y="447.5" width="5" height="13" fill="#5ba7d4" stroke="#1f6a93" stroke-width="1" shape-rendering="crispEdges"/>
<rect x="158.5" y="446.5" width="5" height="14" fill="#5ba7d4" stroke="#1f6a93" stroke-width="1" shape-rendering="crispEdges"/>
<rect x="163.5" y="441.5" width="5" height="19" fill="#5ba7d4" stroke="#1f6a93" stroke-width="1" shape-rendering="crispEdges"/>
<rect x="168.5" y="440.5" width="5" height="20" fill="#5ba7d4" stroke="#1f6a93" stroke-width="1" shape-rendering="crispEdges"/>
<rect x="173.5" y="442.5" width="5" height="18" fill="#5ba7d4" stroke="#1f6a93" stroke-width="1" shape-rendering="crispEdges"/>
<rect x="178.5" y="445.5" width="5" height="15" fill="#5ba7d4" stroke="#1f6a93" stroke-width="1" shape-rendering="crispEdges"/>
<rect x="183.5" y="448.5" width="5" height="12" fill="#5ba7d4" stroke="#1f6a93" stroke-width="1" shape-rendering="crispEdges"/>
<rect x="188.5" y="452.5" width="5" height="8" fill="#5ba7d4" stroke="#1f6a93" stroke-width="1" shape-rendering="crispEdges"/>
<rect x="193.5" y="456.5" width="5" height="4" fill="#5ba7d4" stroke="#1f6a93" stroke-width="1" shape-rendering="crispEdges"/>
<rect x="198.5" y="459.5" width="5" height="1" fill="#5ba7d4" stroke="#1f6a93" stroke-width="1" shape-rendering="crispEdges"/>
<rect x="203.5" y="460.5" width="5" height="2" fill="#5ba7d4" stroke="#1f6a93" stroke-width="1" shape-rendering="crispEdges"/>
<rect x="208.5" y="460.5" width="5" height="4" fill="#5ba7d4" stroke="#1f6a93" stroke-width="1" shape-rendering="crispEdges"/>
<rect x="213.5" y="460.5" width="5" height="5" fill="#5ba7d4" stroke="#1f6a93" stroke-width="1" shape-rendering="crispEdges"/>
<rect x="218.5" y="460.5" width="5" height="4" fill="#5ba7d4" stroke="#1f6a93" stroke-width="1" shape-rendering="crispEdges"/>
<rect x="223.5" y="460.5" width="5" height="1" fill="#5ba7d4" stroke="#1f6a93" stroke-width="1" shape-rendering="crispEdges"/>
<rect x="228.5" y="460.5" width="5" height="1" fill="#5ba7d4" stroke="#1f6a93" stroke-width="1" shape-rendering="crispEdges"/>
<rect x="233.5" y="460.5" width="5" height="1" fill="#5ba7d4" stroke="#1f6a93" stroke-width="1" shape-rendering="crispEdges"/>
<rect x="238.5" y="460.5" width="5" height="3" fill="#5ba7d4" stroke="#1f6a93" stroke-width="1" shape-rendering="crispEdges"/>
<rect x="243.5" y="460.5" width="5" height="2" fill="#5ba7d4" stroke="#1f6a93" stroke-width="1" shape-rendering="crispEdges"/>
<rect x="248.5" y="460.5" width="5" height="3" fill="#5ba7d4" stroke="#1f6a93" stroke-width="1" shape-rendering="crispEdges"/>
<rect x="253.5" y="460.5" width="5" height="2" fill="#5ba7d4" stroke="#1f6a93" stroke-width="1" shape-rendering="crispEdges"/>
<rect x="258.5" y="460.5" width="5" height="1" fill="#5ba7d4" stroke="#1f6a93" stroke-width="1" shape-rendering="crispEdges"/>
<rect x="263.5" y="457.5" width="5" height="3" fill="#5ba7d4" stroke="#1f6a93" stroke-width="1" shape-rendering="crispEdges"/>
<rect x="268.5" y="456.5" width="5" height="4" fill="#5ba7d4" stroke="#1f6a93" stroke-width="1" shape-rendering="crispEdges"/>
<rect x="273.5" y="456.5" width="5" height="4" fill="#5ba7d4" stroke="#1f6a93" stroke-width="1" shape-rendering="crispEdges"/>
<rect x="278.5" y="459.5" width="5" height="1" fill="#5ba7d4" stroke="#1f6a93" stroke-width="1" shape-rendering="crispEdges"/>
<rect x="283.5" y="458.5" width="5" height="2" fill="#5ba7d4" stroke="#1f6a93" stroke-width="1" shape-rendering="crispEdges"/>
<rect x="288.5" y="457.5" width="5" height="3" fill="#5ba7d4" stroke="#1f6a93" stroke-width="1" shape-rendering="crispEdges"/>
<rect x="293.5" y="455.5" width="5" height="5" fill="#5ba7d4" stroke="#1f6a93" stroke-width="1" shape-rendering="crispEdges"/>
<rect x="298.5" y="455.5" width="5" height="5" fill="#5ba7d4" stroke="#1f6a93" stroke-width="1" shape-rendering="crispEdges"/>
<rect x="303.5" y="454.5" width="5" height="6" fill="#5ba7d4" stroke="#1f6a93" stroke-width="1" shape-rendering="crispEdges"/>
<rect x="308.5" y="454.5" width="5" height="6" fill="#5ba7d4" stroke="#1f6a93" stroke-width="1" shape-rendering="crispEdges"/>
<rect x="313.5" y="453.5" width="5" height="7" fill="#5ba7d4" stroke="#1f6a93" stroke-width="1" shape-rendering="crispEdges"/>
<rect x="318.5" y="455.5" width="5" height="5" fill="#5ba7d4" stroke="#1f6a93" stroke-width="1" shape-rendering="crispEdges"/>
<rect x="323.5" y="457.5" width="5" height="3" fill="#5ba7d4" stroke="#1f6a93" stroke-width="1" shape-rendering="crispEdges"/>
<rect x="328.5" y="458.5" width="5" height="2" fill="#5ba7d4" stroke="#1f6a93" stroke-width="1" shape-rendering="crispEdges"/>
<rect x="333.5" y="460.5" width="5" height="1" fill="#5ba7d4" stroke="#1f6a93" stroke-width="1" shape-rendering="crispEdges"/>
<rect x="338.5" y="460.5" width="5" height="1" fill="#5ba7d4" stroke="#1f6a93" stroke-width="1" shape-rendering="crispEdges"/>
<rect x="343.5" y="460.5" width="5" height="3" fill="#5ba7d4" stroke="#1f6a93" stroke-width="1" shape-rendering="crispEdges"/>
<rect x="348.5" y="460.5" width="5" height="3" fill="#5ba7d4" stroke="#1f6a93" stroke-width="1" shape-rendering="crispEdges"/>
<rect x="353.5" y="460.5" width="5" height="2" fill="#5ba7d4" stroke="#1f6a93" stroke-width="1" shape-rendering="crispEdges"/>
<rect x="358.5" y="460.5" width="5" height="1" fill="#5ba7d4" stroke="#1f6a93" stroke-width="1" shape-rendering="crispEdges"/>
<rect x="363.5" y="458.5" width="5" height="2" fill="#5ba7d4" stroke="#1f6a93" stroke-width="1" shape-rendering="crispEdges"/>
<rect x="368.5" y="455.5" width="5" height="5" fill="#5ba7d4" stroke="#1f6a93" stroke-width="1" shape-rendering="crispEdges"/>
<rect x="373.5" y="454.5" width="5" height="6" fill="#5ba7d4" stroke="#1f6a93" stroke-width="1" shape-rendering="crispEdges"/>
<rect x="378.5" y="454.5" width="5" height="6" fill="#5ba7d4" stroke="#1f6a93" stroke-width="1" shape-rendering="crispEdges"/>
<rect x="383.5" y="453.5" width="5" height="7" fill="#5ba7d4" stroke="#1f6a93" stroke-width="1" shape-rendering="crispEdges"/>
<rect x="388.5" y="451.5" width="5" height="9" fill="#5ba7d4" stroke="#1f6a93" stroke-width="1" shape-rendering="crispEdges"/>
<rect x="393.5" y="450.5" width="5" height="10" fill="#5ba7d4" stroke="#1f6a93" stroke-width="1" shape-rendering="crispEdges"/>
<rect x="398.5" y="449.5" width="5" height="11" fill="#5ba7d4" stroke="#1f6a93" stroke-width="1" shape-rendering="crispEdges"/>
<rect x="403.5" y="450.5" width="5" height="10" fill="#5ba7d4" stroke="#1f6a93" stroke-width="1" shape-rendering="crispEdges"/>
<rect x="408.5" y="450.5" width="5" height="10" fill="#5ba7d4" stroke="#1f6a93" stroke-width="1" shape-rendering="crispEdges"/>
<rect x="413.5" y="454.5" width="5" height="6" fill="#5ba7d4" stroke="#1f6a93" stroke-width="1" shape-rendering="crispEdges"/>
<rect x="418.5" y="457.5" width="5" height="3" fill="#5ba7d4" stroke="#1f6a93" stroke-width="1" shape-rendering="crispEdges"/>
<rect x="423.5" y="460.5" width="5" height="1" fill="#5ba7d4" stroke="#1f6a93" stroke-width="1" shape-rendering="crispEdges"/>
<rect x="428.5" y="460.5" width="5" height="1" fill="#5ba7d4" stroke="#1f6a93" stroke-width="1" shape-rendering="crispEdges"/>
<rect x="433.5" y="460.5" width="5" height="1" fill="#5ba7d4" stroke="#1f6a93" stroke-width="1" shape-rendering="crispEdges"/>
<rect x="438.5" y="460.5" width="5" height="1" fill="#5ba7d4" stroke="#1f6a93" stroke-width="1" shape-rendering="crispEdges"/>
<rect x="443.5" y="458.5" width="5" height="2" fill="#5ba7d4" stroke="#1f6a93" stroke-width="1" shape-rendering="crispEdges"/>
<rect x="448.5" y="456.5" width="5" height="4" fill="#5ba7d4" stroke="#1f6a93" stroke-width="1" shape-rendering="crispEdges"/>
<rect x="453.5" y="454.5" width="5" height="6" fill="#5ba7d4" stroke="#1f6a93" stroke-width="1" shape-rendering="crispEdges"/>
<rect x="458.5" y="458.5" width="5" height="2" fill="#5ba7d4" stroke="#1f6a93" stroke-width="1" shape-rendering="crispEdges"/>
<rect x="463.5" y="460.5" width="5" height="3" fill="#5ba7d4" stroke="#1f6a93" stroke-width="1" shape-rendering="crispEdges"/>
<rect x="468.5" y="460.5" width="5" height="3" fill="#5ba7d4" stroke="#1f6a93" stroke-width="1" shape-rendering="crispEdges"/>
<rect x="473.5" y="460.5" width="5" height="4" fill="#5ba7d4" stroke="#1f6a93" stroke-width="1" shape-rendering="crispEdges"/>
<rect x="478.5" y="460.5" width="5" height="7" fill="#5ba7d4" stroke="#1f6a93" stroke-width="1" shape-rendering="crispEdges"/>
<rect x="483.5" y="460.5" width="5" height="5" fill="#5ba7d4" stroke="#1f6a93" stroke-width="1" shape-rendering="crispEdges"/>
<rect x="488.5" y="460.5" width="5" height="4" fill="#5ba7d4" stroke="#1f6a93" stroke-width="1" shape-rendering="crispEdges"/>
<rect x="493.5" y="460.5" width="5" height="4" fill="#5ba7d4" stroke="#1f6a93" stroke-width="1" shape-rendering="crispEdges"/>
<rect x="498.5" y="460.5" width="5" height="4" fill="#5ba7d4" stroke="#1f6a93" stroke-width="1" shape-rendering="crispEdges"/>
<rect x="503.5" y="460.5" width="5" height="4" fill="#5ba7d4" stroke="#1f6a93" stroke-width="1" shape-rendering="crispEdges"/>
<rect x="508.5" y="460.5" width="5" height="4" fill="#5ba7d4" stroke="#1f6a93" stroke-width="1" shape-rendering="crispEdges"/>
<rect x="513.5" y="460.5" width="5" height="3" fill="#5ba7d4" stroke="#1f6a93" stroke-width="1" shape-rendering="crispEdges"/>
<rect x="518.5" y="460.5" width="5" height="3" fill="#5ba7d4" stroke="#1f6a93" stroke-width="1" shape-rendering="crispEdges"/>
<rect x="523.5" y="460.5" width="5" height="3" fill="#5ba7d4" stroke="#1f6a93" stroke-width="1" shape-rendering="crispEdges"/>
<rect x="528.5" y="460.5" width="5" height="2" fill="#5ba7d4" stroke="#1f6a93" stroke-width="1" shape-rendering="crispEdges"/>
<rect x="533.5" y="460.5" width="5" height="2" fill="#5ba7d4" stroke="#1f6a93" stroke-width="1" shape-rendering="crispEdges"/>
<rect x="538.5" y="460.5" width="5" height="2" fill="#5ba7d4" stroke="#1f6a93" stroke-width="1" shape-rendering="crispEdges"/>
<rect x="543.5" y="460.5" width="5" height="2" fill="#5ba7d4" stroke="#1f6a93" stroke-width="1" shape-rendering="crispEdges"/>
<rect x="548.5" y="460.5" width="5" height="2" fill="#5ba7d4" stroke="#1f6a93" stroke-width="1" shape-rendering="crispEdges"/>
<rect x="553.5" y="460.5" width="5" height="3" fill="#5ba7d4" stroke="#1f6a93" stroke-width="1" shape-rendering="crispEdges"/>
<rect x="558.5" y="460.5" width="5" height="3" fill="#5ba7d4" stroke="#1f6a93" stroke-width="1" shape-rendering="crispEdges"/>
<rect x="563.5" y="460.5" width="5" height="3" fill="#5ba7d4" stroke="#1f6a93" stroke-width="1" shape-rendering="crispEdges"/>
<rect x="568.5" y="460.5" width="5" height="1" fill="#5ba7d4" stroke="#1f6a93" stroke-width="1" shape-rendering="crispEdges"/>
<rect x="573.5" y="459.5" width="5" height="1" fill="#5ba7d4" stroke="#1f6a93" stroke-width="1" shape-rendering="crispEdges"/>
<rect x="578.5" y="458.5" width="5" height="2" fill="#5ba7d4" stroke="#1f6a93" stroke-width="1" shape-rendering="crispEdges"/>
<rect x="583.5" y="459.5" width="5" height="1" fill="#5ba7d4" stroke="#1f6a93" stroke-width="1" shape-rendering="crispEdges"/>
<rect x="588.5" y="460.5" width="5" height="1" fill="#5ba7d4" stroke="#1f6a93" stroke-width="1" shape-rendering="crispEdges"/>
<rect x="593.5" y="460.5" width="5" height="1" fill="#5ba7d4" stroke="#1f6a93" stroke-width="1" shape-rendering="crispEdges"/>
<rect x="598.5" y="460.5" width="5" height="1" fill="#5ba7d4" stroke="#1f6a93" stroke-width="1" shape-rendering="crispEdges"/>
<rect x="603.5" y="460.5" width="5" height="1" fill="#5ba7d4" stroke="#1f6a93" stroke-width="1" shape-rendering="crispEdges"/>
<rect x="608.5" y="460.5" width="5" height="1" fill="#5ba7d4" stroke="#1f6a93" stroke-width="1" shape-rendering="crispEdges"/>
<rect x="613.5" y="460.5" width="5" height="1" fill="#5ba7d4" stroke="#1f6a93" stroke-width="1" shape-rendering="crispEdges"/>
<rect x="618.5" y="460.5" width="5" height="2" fill="#5ba7d4" stroke="#1f6a93" stroke-width="1" shape-rendering="crispEdges"/>
<rect x="623.5" y="460.5" width="5" height="3" fill="#5ba7d4" stroke="#1f6a93" stroke-width="1" shape-rendering="crispEdges"/>
<rect x="628.5" y="460.5" width="5" height="2" fill="#5ba7d4" stroke="#1f6a93" stroke-width="1" shape-rendering="crispEdges"/>
<rect x="633.5" y="460.5" width="5" height="1" fill="#5ba7d4" stroke="#1f6a93" stroke-width="1" shape-rendering="crispEdges"/>
<rect x="638.5" y="459.5" width="5" height="1" fill="#5ba7d4" stroke="#1f6a93" stroke-width="1" shape-rendering="crispEdges"/>
<rect x="643.5" y="458.5" width="5" height="2" fill="#5ba7d4" stroke="#1f6a93" stroke-width="1" shape-rendering="crispEdges"/>
<rect x="648.5" y="457.5" width="5" height="3" fill="#5ba7d4" stroke="#1f6a93" stroke-width="1" shape-rendering="crispEdges"/>
<rect x="653.5" y="455.5" width="5" height="5" fill="#5ba7d4" stroke="#1f6a93" stroke-width="1" shape-rendering="crispEdges"/>
<polyline points="16.0,475.6 20.0,474.1 25.0,473.0 30.0,473.4 35.0,474.1 40.0,475.1 45.0,477.3 50.0,478.8 55.0,480.9 60.0,485.2 65.0,489.5 70.0,492.7 75.0,497.0 80.0,501.3 85.0,504.1 90.0,506.2 95.0,507.3 100.0,507.7 105.0,507.7 110.0,506.6 115.0,506.2 120.0,505.6 125.0,504.5 130.0,502.4 135.0,499.1 140.0,495.9 145.0,493.8 150.0,490.6 155.0,486.9 160.0,484.5 165.0,479.9 170.0,473.4 175.0,468.1 180.0,464.4 185.0,462.3 190.0,461.2 195.0,461.0 200.0,461.2 205.0,462.3 210.0,463.8 215.0,465.3 220.0,466.4 225.0,466.6 230.0,466.6 235.0,467.0 240.0,467.6 245.0,468.1 250.0,468.7 255.0,469.1 260.0,469.1 265.0,468.7 270.0,468.1 275.0,467.4 280.0,467.0 285.0,466.6 290.0,465.9 295.0,464.4 300.0,462.7 305.0,461.6 310.0,460.6 315.0,458.9 320.0,457.4 325.0,456.3 330.0,455.9 335.0,456.3 340.0,457.4 345.0,458.4 350.0,459.1 355.0,459.5 360.0,459.9 365.0,459.5 370.0,458.4 375.0,457.4 380.0,456.3 385.0,454.1 390.0,452.0 395.0,449.4 400.0,447.3 405.0,444.5 410.0,441.7 415.0,439.6 420.0,439.1 425.0,439.1 430.0,439.1 435.0,439.8 440.0,439.8 445.0,439.1 450.0,438.9 455.0,438.1 460.0,437.4 465.0,438.7 470.0,439.8 475.0,440.9 480.0,442.4 485.0,443.4 490.0,444.5 495.0,445.6 500.0,447.1 505.0,448.4 510.0,449.4 515.0,450.3 520.0,450.5 525.0,451.4 530.0,452.0 535.0,452.6 540.0,453.1 545.0,453.7 550.0,454.6 555.0,455.6 560.0,456.7 565.0,457.3 570.0,457.0 575.0,456.3 580.0,455.8 585.0,456.3 590.0,456.7 595.0,457.3 600.0,457.7 605.0,457.7 610.0,458.2 615.0,458.8 620.0,459.2 625.0,460.0 630.0,460.0 635.0,459.7 640.0,459.5 645.0,459.2 650.0,458.5 655.0,457.6" fill="none" stroke="#ff0000" stroke-width="1" stroke-linejoin="round" shape-rendering="crispEdges"/>
<polyline points="16.0,467.0 20.0,466.6 25.0,468.7 30.0,473.4 35.0,477.3 40.0,478.8 45.0,482.6 50.0,482.6 55.0,489.5 60.0,495.9 65.0,501.3 70.0,505.1 75.0,509.4 80.0,511.6 85.0,513.7 90.0,515.9 95.0,514.6 100.0,511.6 105.0,509.4 110.0,505.6 115.0,504.5 120.0,503.4 125.0,500.9 130.0,494.9 135.0,488.4 140.0,485.9 145.0,484.8 150.0,482.4 155.0,475.6 160.0,470.5 165.0,461.6 170.0,455.2 175.0,453.7 180.0,453.7 185.0,454.1 190.0,456.3 195.0,458.9 200.0,461.0 205.0,463.8 210.0,468.1 215.0,471.3 220.0,471.3 225.0,467.6 230.0,467.6 235.0,469.1 240.0,471.3 245.0,470.9 250.0,472.4 255.0,472.4 260.0,468.1 265.0,465.9 270.0,464.4 275.0,464.9 280.0,467.0 285.0,465.3 290.0,462.7 295.0,459.5 300.0,458.0 305.0,455.5 310.0,453.7 315.0,452.0 320.0,452.0 325.0,453.1 330.0,454.1 335.0,455.2 340.0,458.4 345.0,462.3 350.0,463.8 355.0,462.3 360.0,461.2 365.0,458.4 370.0,453.7 375.0,450.9 380.0,449.9 385.0,446.0 390.0,442.4 395.0,438.7 400.0,436.6 405.0,434.2 410.0,431.6 415.0,433.1 420.0,435.9 425.0,439.6 430.0,440.9 435.0,441.3 440.0,440.2 445.0,438.7 450.0,437.2 455.0,432.3 460.0,436.6 465.0,440.2 470.0,443.0 475.0,445.6 480.0,448.1 485.0,449.4 490.0,449.4 495.0,449.4 500.0,450.9 505.0,452.4 510.0,454.1 515.0,453.5 520.0,453.7 525.0,454.6 530.0,453.1 535.0,455.2 540.0,455.6 545.0,456.3 550.0,456.7 555.0,458.4 560.0,459.3 565.0,460.0 570.0,457.3 575.0,456.3 580.0,455.4 585.0,456.5 590.0,457.5 595.0,458.0 600.0,458.2 605.0,458.2 610.0,458.5 615.0,459.0 620.0,461.5 625.0,462.2 630.0,461.2 635.0,459.5 640.0,459.4 645.0,458.8 650.0,455.8 655.0,452.3" fill="none" stroke="#000" stroke-width="1.9" stroke-linejoin="round" shape-rendering="geometricPrecision"/>
<line x1="16" y1="547.5" x2="663" y2="547.5" stroke="#5a5a5a" stroke-width="1"/>
<line x1="16" y1="598.5" x2="663" y2="598.5" stroke="#5a5a5a" stroke-width="1"/>
<line x1="16" y1="573.5" x2="663" y2="573.5" stroke="#5a5a5a" stroke-width="1" stroke-dasharray="7.5,2.5,2.5,3" stroke-dashoffset="12.1"/>
<polyline points="16.0,548.8 20.0,552.7 25.0,561.9 30.0,575.6 35.0,588.6 40.0,592.3 45.0,590.4 50.0,586.3 55.0,587.7 60.0,591.6 65.0,600.0 70.0,603.0 75.0,606.0 80.0,606.9 85.0,608.7 90.0,609.9 95.0,608.3 100.0,601.4 105.0,593.9 110.0,587.0 115.0,584.0 120.0,583.6 125.0,582.4 130.0,574.9 135.0,561.9 140.0,551.6 145.0,550.4 150.0,556.1 155.0,559.5 160.0,554.4 165.0,544.7 170.0,541.7 175.0,541.7 180.0,548.6 185.0,556.6 190.0,564.6 195.0,573.0 200.0,581.3 205.0,588.6 210.0,595.4 215.0,601.1 220.0,604.1 225.0,600.0 230.0,594.3 235.0,587.4 240.0,588.1 245.0,592.0 250.0,597.7 255.0,594.3 260.0,590.9 265.0,581.3 270.0,573.0 275.0,566.9 280.0,568.0 285.0,575.3 290.0,579.0 295.0,573.7 300.0,564.6 305.0,553.8 310.0,545.4 315.0,542.9 320.0,547.4 325.0,560.7 330.0,573.0 335.0,581.3 340.0,586.3 345.0,590.9 350.0,595.9 355.0,598.2 360.0,595.4 365.0,588.1 370.0,578.3 375.0,568.0 380.0,560.7 385.0,555.4 390.0,549.3 395.0,541.7 400.0,537.8 405.0,537.1 410.0,539.4 415.0,542.4 420.0,546.3 425.0,556.1 430.0,564.6 435.0,569.8 440.0,568.0 445.0,563.4 450.0,555.4 455.0,547.4 460.0,547.0 465.0,554.8 470.0,572.6 475.0,586.3 480.0,592.7 485.0,593.1 490.0,590.4 495.0,587.4 500.0,586.3 505.0,588.1 510.0,592.7 515.0,593.6 520.0,592.7 525.0,590.4 530.0,584.0 535.0,579.4 540.0,571.4 545.0,570.7 550.0,570.3 555.0,574.9 560.0,579.9 565.0,585.1 570.0,582.9 575.0,577.1 580.0,565.0 585.0,564.5 590.0,568.0 595.0,578.0 600.0,583.7 605.0,586.2 610.0,584.1 615.0,583.3 620.0,584.9 625.0,588.0 630.0,589.9 635.0,581.5 640.0,569.9 645.0,562.5 650.0,557.3 655.0,552.4" fill="none" stroke="#ff0000" stroke-width="1" stroke-linejoin="round" shape-rendering="crispEdges"/>
<polyline points="16.0,552.7 20.0,557.3 25.0,575.6 30.0,589.3 35.0,598.4 40.0,586.3 45.0,585.9 50.0,583.1 55.0,595.0 60.0,596.8 65.0,606.9 70.0,604.1 75.0,607.6 80.0,608.7 85.0,609.9 90.0,610.3 95.0,603.0 100.0,593.9 105.0,585.9 110.0,582.4 115.0,584.7 120.0,585.9 125.0,577.9 130.0,558.4 135.0,545.2 140.0,547.0 145.0,557.3 150.0,563.5 155.0,555.0 160.0,546.0 165.0,537.1 170.0,540.1 175.0,546.3 180.0,556.6 185.0,565.3 190.0,572.6 195.0,579.0 200.0,588.6 205.0,593.1 210.0,601.8 215.0,605.7 220.0,604.1 225.0,589.7 230.0,584.5 235.0,584.5 240.0,598.2 245.0,594.3 250.0,597.7 255.0,589.7 260.0,583.5 265.0,570.7 270.0,562.3 275.0,565.3 280.0,574.9 285.0,580.6 290.0,579.0 295.0,563.4 300.0,553.1 305.0,544.0 310.0,539.4 315.0,544.3 320.0,558.9 325.0,573.7 330.0,581.3 335.0,584.0 340.0,589.7 345.0,595.4 350.0,601.8 355.0,596.6 360.0,591.3 365.0,579.0 370.0,566.9 375.0,558.9 380.0,556.6 385.0,551.5 390.0,542.4 395.0,533.7 400.0,537.1 405.0,540.1 410.0,541.7 415.0,544.7 420.0,553.1 425.0,566.9 430.0,570.7 435.0,572.1 440.0,563.4 445.0,556.6 450.0,545.6 455.0,540.6 460.0,550.9 465.0,571.5 470.0,592.0 475.0,593.1 480.0,593.1 485.0,593.1 490.0,587.4 495.0,582.2 500.0,588.1 505.0,592.7 510.0,598.2 515.0,591.3 520.0,590.9 525.0,589.0 530.0,573.7 535.0,574.2 540.0,563.0 545.0,576.0 550.0,571.4 555.0,581.7 560.0,586.7 565.0,589.7 570.0,572.1 575.0,565.7 580.0,555.0 585.0,569.3 590.0,577.0 595.0,586.9 600.0,585.4 605.0,585.4 610.0,582.3 615.0,581.4 620.0,588.7 625.0,592.2 630.0,584.8 635.0,567.0 640.0,560.6 645.0,561.4 650.0,553.5 655.0,543.1" fill="none" stroke="#000" stroke-width="1.9" stroke-linejoin="round" shape-rendering="geometricPrecision"/>
<rect x="16.5" y="28.5" width="646" height="99" fill="none" stroke="#a8a8a8" stroke-width="1"/>
<rect x="16.5" y="127.5" width="646" height="283" fill="none" stroke="#a8a8a8" stroke-width="1"/>
<rect x="16.5" y="424.5" width="646" height="99" fill="none" stroke="#a8a8a8" stroke-width="1"/>
<rect x="16.5" y="523.5" width="646" height="99" fill="none" stroke="#a8a8a8" stroke-width="1"/>
<line x1="663" y1="120.5" x2="664.2" y2="120.5" stroke="#a8a8a8" stroke-width="1"/>
<line x1="663" y1="116.5" x2="664.2" y2="116.5" stroke="#a8a8a8" stroke-width="1"/>
<line x1="663" y1="112.5" x2="664.2" y2="112.5" stroke="#a8a8a8" stroke-width="1"/>
<line x1="663" y1="107.5" x2="664.2" y2="107.5" stroke="#a8a8a8" stroke-width="1"/>
<line x1="663" y1="103.5" x2="664.2" y2="103.5" stroke="#a8a8a8" stroke-width="1"/>
<line x1="663" y1="99.5" x2="664.2" y2="99.5" stroke="#a8a8a8" stroke-width="1"/>
<line x1="663" y1="95.5" x2="664.2" y2="95.5" stroke="#a8a8a8" stroke-width="1"/>
<line x1="663" y1="90.5" x2="664.2" y2="90.5" stroke="#a8a8a8" stroke-width="1"/>
<line x1="663" y1="86.5" x2="664.2" y2="86.5" stroke="#a8a8a8" stroke-width="1"/>
<line x1="663" y1="82.5" x2="664.2" y2="82.5" stroke="#a8a8a8" stroke-width="1"/>
<line x1="663" y1="78.5" x2="664.2" y2="78.5" stroke="#a8a8a8" stroke-width="1"/>
<line x1="663" y1="73.5" x2="664.2" y2="73.5" stroke="#a8a8a8" stroke-width="1"/>
<line x1="663" y1="69.5" x2="664.2" y2="69.5" stroke="#a8a8a8" stroke-width="1"/>
<line x1="663" y1="65.5" x2="664.2" y2="65.5" stroke="#a8a8a8" stroke-width="1"/>
<line x1="663" y1="61.5" x2="664.2" y2="61.5" stroke="#a8a8a8" stroke-width="1"/>
<line x1="663" y1="56.5" x2="664.2" y2="56.5" stroke="#a8a8a8" stroke-width="1"/>
<line x1="663" y1="52.5" x2="664.2" y2="52.5" stroke="#a8a8a8" stroke-width="1"/>
<line x1="663" y1="48.5" x2="664.2" y2="48.5" stroke="#a8a8a8" stroke-width="1"/>
<line x1="663" y1="44.5" x2="664.2" y2="44.5" stroke="#a8a8a8" stroke-width="1"/>
<line x1="663" y1="39.5" x2="664.2" y2="39.5" stroke="#a8a8a8" stroke-width="1"/>
<line x1="663" y1="35.5" x2="664.2" y2="35.5" stroke="#a8a8a8" stroke-width="1"/>
<line x1="663" y1="401.5" x2="664.5" y2="401.5" stroke="#a8a8a8" stroke-width="1"/>
<line x1="663" y1="395.5" x2="664.2" y2="395.5" stroke="#a8a8a8" stroke-width="1"/>
<line x1="663" y1="390.5" x2="664.2" y2="390.5" stroke="#a8a8a8" stroke-width="1"/>
<line x1="663" y1="385.5" x2="664.2" y2="385.5" stroke="#a8a8a8" stroke-width="1"/>
<line x1="663" y1="380.5" x2="664.2" y2="380.5" stroke="#a8a8a8" stroke-width="1"/>
<line x1="663" y1="375.5" x2="664.5" y2="375.5" stroke="#a8a8a8" stroke-width="1"/>
<line x1="663" y1="370.5" x2="664.2" y2="370.5" stroke="#a8a8a8" stroke-width="1"/>
<line x1="663" y1="365.5" x2="664.2" y2="365.5" stroke="#a8a8a8" stroke-width="1"/>
<line x1="663" y1="360.5" x2="664.2" y2="360.5" stroke="#a8a8a8" stroke-width="1"/>
<line x1="663" y1="355.5" x2="664.2" y2="355.5" stroke="#a8a8a8" stroke-width="1"/>
<line x1="663" y1="350.5" x2="664.5" y2="350.5" stroke="#a8a8a8" stroke-width="1"/>
<line x1="663" y1="345.5" x2="664.2" y2="345.5" stroke="#a8a8a8" stroke-width="1"/>
<line x1="663" y1="340.5" x2="664.2" y2="340.5" stroke="#a8a8a8" stroke-width="1"/>
<line x1="663" y1="335.5" x2="664.2" y2="335.5" stroke="#a8a8a8" stroke-width="1"/>
<line x1="663" y1="330.5" x2="664.2" y2="330.5" stroke="#a8a8a8" stroke-width="1"/>
<line x1="663" y1="325.5" x2="664.5" y2="325.5" stroke="#a8a8a8" stroke-width="1"/>
<line x1="663" y1="321.5" x2="664.2" y2="321.5" stroke="#a8a8a8" stroke-width="1"/>
<line x1="663" y1="316.5" x2="664.2" y2="316.5" stroke="#a8a8a8" stroke-width="1"/>
<line x1="663" y1="311.5" x2="664.2" y2="311.5" stroke="#a8a8a8" stroke-width="1"/>
<line x1="663" y1="306.5" x2="664.2" y2="306.5" stroke="#a8a8a8" stroke-width="1"/>
<line x1="663" y1="301.5" x2="664.5" y2="301.5" stroke="#a8a8a8" stroke-width="1"/>
<line x1="663" y1="296.5" x2="664.2" y2="296.5" stroke="#a8a8a8" stroke-width="1"/>
<line x1="663" y1="291.5" x2="664.2" y2="291.5" stroke="#a8a8a8" stroke-width="1"/>
<line x1="663" y1="286.5" x2="664.2" y2="286.5" stroke="#a8a8a8" stroke-width="1"/>
<line x1="663" y1="281.5" x2="664.2" y2="281.5" stroke="#a8a8a8" stroke-width="1"/>
<line x1="663" y1="276.5" x2="664.5" y2="276.5" stroke="#a8a8a8" stroke-width="1"/>
<line x1="663" y1="271.5" x2="664.2" y2="271.5" stroke="#a8a8a8" stroke-width="1"/>
<line x1="663" y1="267.5" x2="664.2" y2="267.5" stroke="#a8a8a8" stroke-width="1"/>
<line x1="663" y1="262.5" x2="664.2" y2="262.5" stroke="#a8a8a8" stroke-width="1"/>
<line x1="663" y1="257.5" x2="664.2" y2="257.5" stroke="#a8a8a8" stroke-width="1"/>
<line x1="663" y1="252.5" x2="664.5" y2="252.5" stroke="#a8a8a8" stroke-width="1"/>
<line x1="663" y1="247.5" x2="664.2" y2="247.5" stroke="#a8a8a8" stroke-width="1"/>
<line x1="663" y1="242.5" x2="664.2" y2="242.5" stroke="#a8a8a8" stroke-width="1"/>
<line x1="663" y1="237.5" x2="664.2" y2="237.5" stroke="#a8a8a8" stroke-width="1"/>
<line x1="663" y1="233.5" x2="664.2" y2="233.5" stroke="#a8a8a8" stroke-width="1"/>
<line x1="663" y1="228.5" x2="664.5" y2="228.5" stroke="#a8a8a8" stroke-width="1"/>
<line x1="663" y1="223.5" x2="664.2" y2="223.5" stroke="#a8a8a8" stroke-width="1"/>
<line x1="663" y1="218.5" x2="664.2" y2="218.5" stroke="#a8a8a8" stroke-width="1"/>
<line x1="663" y1="213.5" x2="664.2" y2="213.5" stroke="#a8a8a8" stroke-width="1"/>
<line x1="663" y1="209.5" x2="664.2" y2="209.5" stroke="#a8a8a8" stroke-width="1"/>
<line x1="663" y1="204.5" x2="664.5" y2="204.5" stroke="#a8a8a8" stroke-width="1"/>
<line x1="663" y1="199.5" x2="664.2" y2="199.5" stroke="#a8a8a8" stroke-width="1"/>
<line x1="663" y1="194.5" x2="664.2" y2="194.5" stroke="#a8a8a8" stroke-width="1"/>
<line x1="663" y1="189.5" x2="664.2" y2="189.5" stroke="#a8a8a8" stroke-width="1"/>
<line x1="663" y1="185.5" x2="664.2" y2="185.5" stroke="#a8a8a8" stroke-width="1"/>
<line x1="663" y1="180.5" x2="664.5" y2="180.5" stroke="#a8a8a8" stroke-width="1"/>
<line x1="663" y1="175.5" x2="664.2" y2="175.5" stroke="#a8a8a8" stroke-width="1"/>
<line x1="663" y1="170.5" x2="664.2" y2="170.5" stroke="#a8a8a8" stroke-width="1"/>
<line x1="663" y1="166.5" x2="664.2" y2="166.5" stroke="#a8a8a8" stroke-width="1"/>
<line x1="663" y1="161.5" x2="664.2" y2="161.5" stroke="#a8a8a8" stroke-width="1"/>
<line x1="663" y1="156.5" x2="664.5" y2="156.5" stroke="#a8a8a8" stroke-width="1"/>
<line x1="663" y1="152.5" x2="664.2" y2="152.5" stroke="#a8a8a8" stroke-width="1"/>
<line x1="663" y1="147.5" x2="664.2" y2="147.5" stroke="#a8a8a8" stroke-width="1"/>
<line x1="663" y1="142.5" x2="664.2" y2="142.5" stroke="#a8a8a8" stroke-width="1"/>
<line x1="663" y1="137.5" x2="664.2" y2="137.5" stroke="#a8a8a8" stroke-width="1"/>
<line x1="663" y1="133.5" x2="664.5" y2="133.5" stroke="#a8a8a8" stroke-width="1"/>
<line x1="663" y1="128.5" x2="664.2" y2="128.5" stroke="#a8a8a8" stroke-width="1"/>
<line x1="663" y1="514.5" x2="665" y2="514.5" stroke="#a8a8a8" stroke-width="1"/>
<line x1="663" y1="500.5" x2="665" y2="500.5" stroke="#a8a8a8" stroke-width="1"/>
<line x1="663" y1="487.5" x2="665" y2="487.5" stroke="#a8a8a8" stroke-width="1"/>
<line x1="663" y1="473.5" x2="665" y2="473.5" stroke="#a8a8a8" stroke-width="1"/>
<line x1="663" y1="460.5" x2="665" y2="460.5" stroke="#a8a8a8" stroke-width="1"/>
<line x1="663" y1="446.5" x2="665" y2="446.5" stroke="#a8a8a8" stroke-width="1"/>
<line x1="663" y1="433.5" x2="665" y2="433.5" stroke="#a8a8a8" stroke-width="1"/>
<line x1="663" y1="615.5" x2="664.2" y2="615.5" stroke="#a8a8a8" stroke-width="1"/>
<line x1="663" y1="611.5" x2="664.2" y2="611.5" stroke="#a8a8a8" stroke-width="1"/>
<line x1="663" y1="607.5" x2="664.2" y2="607.5" stroke="#a8a8a8" stroke-width="1"/>
<line x1="663" y1="603.5" x2="664.2" y2="603.5" stroke="#a8a8a8" stroke-width="1"/>
<line x1="663" y1="598.5" x2="664.2" y2="598.5" stroke="#a8a8a8" stroke-width="1"/>
<line x1="663" y1="594.5" x2="664.2" y2="594.5" stroke="#a8a8a8" stroke-width="1"/>
<line x1="663" y1="590.5" x2="664.2" y2="590.5" stroke="#a8a8a8" stroke-width="1"/>
<line x1="663" y1="586.5" x2="664.2" y2="586.5" stroke="#a8a8a8" stroke-width="1"/>
<line x1="663" y1="581.5" x2="664.2" y2="581.5" stroke="#a8a8a8" stroke-width="1"/>
<line x1="663" y1="577.5" x2="664.2" y2="577.5" stroke="#a8a8a8" stroke-width="1"/>
<line x1="663" y1="573.5" x2="664.2" y2="573.5" stroke="#a8a8a8" stroke-width="1"/>
<line x1="663" y1="569.5" x2="664.2" y2="569.5" stroke="#a8a8a8" stroke-width="1"/>
<line x1="663" y1="564.5" x2="664.2" y2="564.5" stroke="#a8a8a8" stroke-width="1"/>
<line x1="663" y1="560.5" x2="664.2" y2="560.5" stroke="#a8a8a8" stroke-width="1"/>
<line x1="663" y1="556.5" x2="664.2" y2="556.5" stroke="#a8a8a8" stroke-width="1"/>
<line x1="663" y1="552.5" x2="664.2" y2="552.5" stroke="#a8a8a8" stroke-width="1"/>
<line x1="663" y1="547.5" x2="664.2" y2="547.5" stroke="#a8a8a8" stroke-width="1"/>
<line x1="663" y1="543.5" x2="664.2" y2="543.5" stroke="#a8a8a8" stroke-width="1"/>
<line x1="663" y1="539.5" x2="664.2" y2="539.5" stroke="#a8a8a8" stroke-width="1"/>
<line x1="663" y1="535.5" x2="664.2" y2="535.5" stroke="#a8a8a8" stroke-width="1"/>
<line x1="663" y1="530.5" x2="664.2" y2="530.5" stroke="#a8a8a8" stroke-width="1"/>
<line x1="20.5" y1="411" x2="20.5" y2="412.5" stroke="#a8a8a8" stroke-width="1"/>
<line x1="20.5" y1="422.5" x2="20.5" y2="424" stroke="#a8a8a8" stroke-width="1"/>
<line x1="20.5" y1="623" x2="20.5" y2="624.5" stroke="#a8a8a8" stroke-width="1"/>
<line x1="25.5" y1="411" x2="25.5" y2="412.5" stroke="#a8a8a8" stroke-width="1"/>
<line x1="25.5" y1="422.5" x2="25.5" y2="424" stroke="#a8a8a8" stroke-width="1"/>
<line x1="25.5" y1="623" x2="25.5" y2="624.5" stroke="#a8a8a8" stroke-width="1"/>
<line x1="30.5" y1="411" x2="30.5" y2="412.5" stroke="#a8a8a8" stroke-width="1"/>
<line x1="30.5" y1="422.5" x2="30.5" y2="424" stroke="#a8a8a8" stroke-width="1"/>
<line x1="30.5" y1="623" x2="30.5" y2="624.5" stroke="#a8a8a8" stroke-width="1"/>
<line x1="35.5" y1="411" x2="35.5" y2="412.5" stroke="#a8a8a8" stroke-width="1"/>
<line x1="35.5" y1="422.5" x2="35.5" y2="424" stroke="#a8a8a8" stroke-width="1"/>
<line x1="35.5" y1="623" x2="35.5" y2="624.5" stroke="#a8a8a8" stroke-width="1"/>
<line x1="40.5" y1="411" x2="40.5" y2="412.5" stroke="#a8a8a8" stroke-width="1"/>
<line x1="40.5" y1="422.5" x2="40.5" y2="424" stroke="#a8a8a8" stroke-width="1"/>
<line x1="40.5" y1="623" x2="40.5" y2="624.5" stroke="#a8a8a8" stroke-width="1"/>
<line x1="45.5" y1="411" x2="45.5" y2="412.5" stroke="#a8a8a8" stroke-width="1"/>
<line x1="45.5" y1="422.5" x2="45.5" y2="424" stroke="#a8a8a8" stroke-width="1"/>
<line x1="45.5" y1="623" x2="45.5" y2="624.5" stroke="#a8a8a8" stroke-width="1"/>
<line x1="50.5" y1="411" x2="50.5" y2="412.5" stroke="#a8a8a8" stroke-width="1"/>
<line x1="50.5" y1="422.5" x2="50.5" y2="424" stroke="#a8a8a8" stroke-width="1"/>
<line x1="50.5" y1="623" x2="50.5" y2="624.5" stroke="#a8a8a8" stroke-width="1"/>
<line x1="55.5" y1="411" x2="55.5" y2="412.5" stroke="#a8a8a8" stroke-width="1"/>
<line x1="55.5" y1="422.5" x2="55.5" y2="424" stroke="#a8a8a8" stroke-width="1"/>
<line x1="55.5" y1="623" x2="55.5" y2="624.5" stroke="#a8a8a8" stroke-width="1"/>
<line x1="60.5" y1="411" x2="60.5" y2="412.5" stroke="#a8a8a8" stroke-width="1"/>
<line x1="60.5" y1="422.5" x2="60.5" y2="424" stroke="#a8a8a8" stroke-width="1"/>
<line x1="60.5" y1="623" x2="60.5" y2="624.5" stroke="#a8a8a8" stroke-width="1"/>
<line x1="65.5" y1="411" x2="65.5" y2="412.5" stroke="#a8a8a8" stroke-width="1"/>
<line x1="65.5" y1="422.5" x2="65.5" y2="424" stroke="#a8a8a8" stroke-width="1"/>
<line x1="65.5" y1="623" x2="65.5" y2="624.5" stroke="#a8a8a8" stroke-width="1"/>
<line x1="70.5" y1="411" x2="70.5" y2="412.5" stroke="#a8a8a8" stroke-width="1"/>
<line x1="70.5" y1="422.5" x2="70.5" y2="424" stroke="#a8a8a8" stroke-width="1"/>
<line x1="70.5" y1="623" x2="70.5" y2="624.5" stroke="#a8a8a8" stroke-width="1"/>
<line x1="75.5" y1="411" x2="75.5" y2="412.5" stroke="#a8a8a8" stroke-width="1"/>
<line x1="75.5" y1="422.5" x2="75.5" y2="424" stroke="#a8a8a8" stroke-width="1"/>
<line x1="75.5" y1="623" x2="75.5" y2="624.5" stroke="#a8a8a8" stroke-width="1"/>
<line x1="80.5" y1="411" x2="80.5" y2="412.5" stroke="#a8a8a8" stroke-width="1"/>
<line x1="80.5" y1="422.5" x2="80.5" y2="424" stroke="#a8a8a8" stroke-width="1"/>
<line x1="80.5" y1="623" x2="80.5" y2="624.5" stroke="#a8a8a8" stroke-width="1"/>
<line x1="85.5" y1="411" x2="85.5" y2="412.5" stroke="#a8a8a8" stroke-width="1"/>
<line x1="85.5" y1="422.5" x2="85.5" y2="424" stroke="#a8a8a8" stroke-width="1"/>
<line x1="85.5" y1="623" x2="85.5" y2="624.5" stroke="#a8a8a8" stroke-width="1"/>
<line x1="90.5" y1="411" x2="90.5" y2="412.5" stroke="#a8a8a8" stroke-width="1"/>
<line x1="90.5" y1="422.5" x2="90.5" y2="424" stroke="#a8a8a8" stroke-width="1"/>
<line x1="90.5" y1="623" x2="90.5" y2="624.5" stroke="#a8a8a8" stroke-width="1"/>
<line x1="95.5" y1="411" x2="95.5" y2="412.5" stroke="#a8a8a8" stroke-width="1"/>
<line x1="95.5" y1="422.5" x2="95.5" y2="424" stroke="#a8a8a8" stroke-width="1"/>
<line x1="95.5" y1="623" x2="95.5" y2="624.5" stroke="#a8a8a8" stroke-width="1"/>
<line x1="100.5" y1="411" x2="100.5" y2="412.5" stroke="#a8a8a8" stroke-width="1"/>
<line x1="100.5" y1="422.5" x2="100.5" y2="424" stroke="#a8a8a8" stroke-width="1"/>
<line x1="100.5" y1="623" x2="100.5" y2="624.5" stroke="#a8a8a8" stroke-width="1"/>
<line x1="105.5" y1="411" x2="105.5" y2="412.5" stroke="#a8a8a8" stroke-width="1"/>
<line x1="105.5" y1="422.5" x2="105.5" y2="424" stroke="#a8a8a8" stroke-width="1"/>
<line x1="105.5" y1="623" x2="105.5" y2="624.5" stroke="#a8a8a8" stroke-width="1"/>
<line x1="110.5" y1="411" x2="110.5" y2="412.5" stroke="#a8a8a8" stroke-width="1"/>
<line x1="110.5" y1="422.5" x2="110.5" y2="424" stroke="#a8a8a8" stroke-width="1"/>
<line x1="110.5" y1="623" x2="110.5" y2="624.5" stroke="#a8a8a8" stroke-width="1"/>
<line x1="115.5" y1="411" x2="115.5" y2="412.5" stroke="#a8a8a8" stroke-width="1"/>
<line x1="115.5" y1="422.5" x2="115.5" y2="424" stroke="#a8a8a8" stroke-width="1"/>
<line x1="115.5" y1="623" x2="115.5" y2="624.5" stroke="#a8a8a8" stroke-width="1"/>
<line x1="120.5" y1="411" x2="120.5" y2="412.5" stroke="#a8a8a8" stroke-width="1"/>
<line x1="120.5" y1="422.5" x2="120.5" y2="424" stroke="#a8a8a8" stroke-width="1"/>
<line x1="120.5" y1="623" x2="120.5" y2="624.5" stroke="#a8a8a8" stroke-width="1"/>
<line x1="125.5" y1="411" x2="125.5" y2="412.5" stroke="#a8a8a8" stroke-width="1"/>
<line x1="125.5" y1="422.5" x2="125.5" y2="424" stroke="#a8a8a8" stroke-width="1"/>
<line x1="125.5" y1="623" x2="125.5" y2="624.5" stroke="#a8a8a8" stroke-width="1"/>
<line x1="130.5" y1="411" x2="130.5" y2="412.5" stroke="#a8a8a8" stroke-width="1"/>
<line x1="130.5" y1="422.5" x2="130.5" y2="424" stroke="#a8a8a8" stroke-width="1"/>
<line x1="130.5" y1="623" x2="130.5" y2="624.5" stroke="#a8a8a8" stroke-width="1"/>
<line x1="135.5" y1="411" x2="135.5" y2="412.5" stroke="#a8a8a8" stroke-width="1"/>
<line x1="135.5" y1="422.5" x2="135.5" y2="424" stroke="#a8a8a8" stroke-width="1"/>
<line x1="135.5" y1="623" x2="135.5" y2="624.5" stroke="#a8a8a8" stroke-width="1"/>
<line x1="140.5" y1="411" x2="140.5" y2="412.5" stroke="#a8a8a8" stroke-width="1"/>
<line x1="140.5" y1="422.5" x2="140.5" y2="424" stroke="#a8a8a8" stroke-width="1"/>
<line x1="140.5" y1="623" x2="140.5" y2="624.5" stroke="#a8a8a8" stroke-width="1"/>
<line x1="145.5" y1="411" x2="145.5" y2="412.5" stroke="#a8a8a8" stroke-width="1"/>
<line x1="145.5" y1="422.5" x2="145.5" y2="424" stroke="#a8a8a8" stroke-width="1"/>
<line x1="145.5" y1="623" x2="145.5" y2="624.5" stroke="#a8a8a8" stroke-width="1"/>
<line x1="150.5" y1="411" x2="150.5" y2="412.5" stroke="#a8a8a8" stroke-width="1"/>
<line x1="150.5" y1="422.5" x2="150.5" y2="424" stroke="#a8a8a8" stroke-width="1"/>
<line x1="150.5" y1="623" x2="150.5" y2="624.5" stroke="#a8a8a8" stroke-width="1"/>
<line x1="155.5" y1="411" x2="155.5" y2="412.5" stroke="#a8a8a8" stroke-width="1"/>
<line x1="155.5" y1="422.5" x2="155.5" y2="424" stroke="#a8a8a8" stroke-width="1"/>
<line x1="155.5" y1="623" x2="155.5" y2="624.5" stroke="#a8a8a8" stroke-width="1"/>
<line x1="160.5" y1="411" x2="160.5" y2="412.5" stroke="#a8a8a8" stroke-width="1"/>
<line x1="160.5" y1="422.5" x2="160.5" y2="424" stroke="#a8a8a8" stroke-width="1"/>
<line x1="160.5" y1="623" x2="160.5" y2="624.5" stroke="#a8a8a8" stroke-width="1"/>
<line x1="165.5" y1="411" x2="165.5" y2="412.5" stroke="#a8a8a8" stroke-width="1"/>
<line x1="165.5" y1="422.5" x2="165.5" y2="424" stroke="#a8a8a8" stroke-width="1"/>
<line x1="165.5" y1="623" x2="165.5" y2="624.5" stroke="#a8a8a8" stroke-width="1"/>
<line x1="170.5" y1="411" x2="170.5" y2="412.5" stroke="#a8a8a8" stroke-width="1"/>
<line x1="170.5" y1="422.5" x2="170.5" y2="424" stroke="#a8a8a8" stroke-width="1"/>
<line x1="170.5" y1="623" x2="170.5" y2="624.5" stroke="#a8a8a8" stroke-width="1"/>
<line x1="175.5" y1="411" x2="175.5" y2="412.5" stroke="#a8a8a8" stroke-width="1"/>
<line x1="175.5" y1="422.5" x2="175.5" y2="424" stroke="#a8a8a8" stroke-width="1"/>
<line x1="175.5" y1="623" x2="175.5" y2="624.5" stroke="#a8a8a8" stroke-width="1"/>
<line x1="180.5" y1="411" x2="180.5" y2="412.5" stroke="#a8a8a8" stroke-width="1"/>
<line x1="180.5" y1="422.5" x2="180.5" y2="424" stroke="#a8a8a8" stroke-width="1"/>
<line x1="180.5" y1="623" x2="180.5" y2="624.5" stroke="#a8a8a8" stroke-width="1"/>
<line x1="185.5" y1="411" x2="185.5" y2="412.5" stroke="#a8a8a8" stroke-width="1"/>
<line x1="185.5" y1="422.5" x2="185.5" y2="424" stroke="#a8a8a8" stroke-width="1"/>
<line x1="185.5" y1="623" x2="185.5" y2="624.5" stroke="#a8a8a8" stroke-width="1"/>
<line x1="190.5" y1="411" x2="190.5" y2="412.5" stroke="#a8a8a8" stroke-width="1"/>
<line x1="190.5" y1="422.5" x2="190.5" y2="424" stroke="#a8a8a8" stroke-width="1"/>
<line x1="190.5" y1="623" x2="190.5" y2="624.5" stroke="#a8a8a8" stroke-width="1"/>
<line x1="195.5" y1="411" x2="195.5" y2="412.5" stroke="#a8a8a8" stroke-width="1"/>
<line x1="195.5" y1="422.5" x2="195.5" y2="424" stroke="#a8a8a8" stroke-width="1"/>
<line x1="195.5" y1="623" x2="195.5" y2="624.5" stroke="#a8a8a8" stroke-width="1"/>
<line x1="200.5" y1="411" x2="200.5" y2="412.5" stroke="#a8a8a8" stroke-width="1"/>
<line x1="200.5" y1="422.5" x2="200.5" y2="424" stroke="#a8a8a8" stroke-width="1"/>
<line x1="200.5" y1="623" x2="200.5" y2="624.5" stroke="#a8a8a8" stroke-width="1"/>
<line x1="205.5" y1="411" x2="205.5" y2="412.5" stroke="#a8a8a8" stroke-width="1"/>
<line x1="205.5" y1="422.5" x2="205.5" y2="424" stroke="#a8a8a8" stroke-width="1"/>
<line x1="205.5" y1="623" x2="205.5" y2="624.5" stroke="#a8a8a8" stroke-width="1"/>
<line x1="210.5" y1="411" x2="210.5" y2="412.5" stroke="#a8a8a8" stroke-width="1"/>
<line x1="210.5" y1="422.5" x2="210.5" y2="424" stroke="#a8a8a8" stroke-width="1"/>
<line x1="210.5" y1="623" x2="210.5" y2="624.5" stroke="#a8a8a8" stroke-width="1"/>
<line x1="215.5" y1="411" x2="215.5" y2="412.5" stroke="#a8a8a8" stroke-width="1"/>
<line x1="215.5" y1="422.5" x2="215.5" y2="424" stroke="#a8a8a8" stroke-width="1"/>
<line x1="215.5" y1="623" x2="215.5" y2="624.5" stroke="#a8a8a8" stroke-width="1"/>
<line x1="220.5" y1="411" x2="220.5" y2="412.5" stroke="#a8a8a8" stroke-width="1"/>
<line x1="220.5" y1="422.5" x2="220.5" y2="424" stroke="#a8a8a8" stroke-width="1"/>
<line x1="220.5" y1="623" x2="220.5" y2="624.5" stroke="#a8a8a8" stroke-width="1"/>
<line x1="225.5" y1="411" x2="225.5" y2="412.5" stroke="#a8a8a8" stroke-width="1"/>
<line x1="225.5" y1="422.5" x2="225.5" y2="424" stroke="#a8a8a8" stroke-width="1"/>
<line x1="225.5" y1="623" x2="225.5" y2="624.5" stroke="#a8a8a8" stroke-width="1"/>
<line x1="230.5" y1="411" x2="230.5" y2="412.5" stroke="#a8a8a8" stroke-width="1"/>
<line x1="230.5" y1="422.5" x2="230.5" y2="424" stroke="#a8a8a8" stroke-width="1"/>
<line x1="230.5" y1="623" x2="230.5" y2="624.5" stroke="#a8a8a8" stroke-width="1"/>
<line x1="235.5" y1="411" x2="235.5" y2="412.5" stroke="#a8a8a8" stroke-width="1"/>
<line x1="235.5" y1="422.5" x2="235.5" y2="424" stroke="#a8a8a8" stroke-width="1"/>
<line x1="235.5" y1="623" x2="235.5" y2="624.5" stroke="#a8a8a8" stroke-width="1"/>
<line x1="240.5" y1="411" x2="240.5" y2="412.5" stroke="#a8a8a8" stroke-width="1"/>
<line x1="240.5" y1="422.5" x2="240.5" y2="424" stroke="#a8a8a8" stroke-width="1"/>
<line x1="240.5" y1="623" x2="240.5" y2="624.5" stroke="#a8a8a8" stroke-width="1"/>
<line x1="245.5" y1="411" x2="245.5" y2="412.5" stroke="#a8a8a8" stroke-width="1"/>
<line x1="245.5" y1="422.5" x2="245.5" y2="424" stroke="#a8a8a8" stroke-width="1"/>
<line x1="245.5" y1="623" x2="245.5" y2="624.5" stroke="#a8a8a8" stroke-width="1"/>
<line x1="250.5" y1="411" x2="250.5" y2="412.5" stroke="#a8a8a8" stroke-width="1"/>
<line x1="250.5" y1="422.5" x2="250.5" y2="424" stroke="#a8a8a8" stroke-width="1"/>
<line x1="250.5" y1="623" x2="250.5" y2="624.5" stroke="#a8a8a8" stroke-width="1"/>
<line x1="255.5" y1="411" x2="255.5" y2="412.5" stroke="#a8a8a8" stroke-width="1"/>
<line x1="255.5" y1="422.5" x2="255.5" y2="424" stroke="#a8a8a8" stroke-width="1"/>
<line x1="255.5" y1="623" x2="255.5" y2="624.5" stroke="#a8a8a8" stroke-width="1"/>
<line x1="260.5" y1="411" x2="260.5" y2="412.5" stroke="#a8a8a8" stroke-width="1"/>
<line x1="260.5" y1="422.5" x2="260.5" y2="424" stroke="#a8a8a8" stroke-width="1"/>
<line x1="260.5" y1="623" x2="260.5" y2="624.5" stroke="#a8a8a8" stroke-width="1"/>
<line x1="265.5" y1="411" x2="265.5" y2="412.5" stroke="#a8a8a8" stroke-width="1"/>
<line x1="265.5" y1="422.5" x2="265.5" y2="424" stroke="#a8a8a8" stroke-width="1"/>
<line x1="265.5" y1="623" x2="265.5" y2="624.5" stroke="#a8a8a8" stroke-width="1"/>
<line x1="270.5" y1="411" x2="270.5" y2="412.5" stroke="#a8a8a8" stroke-width="1"/>
<line x1="270.5" y1="422.5" x2="270.5" y2="424" stroke="#a8a8a8" stroke-width="1"/>
<line x1="270.5" y1="623" x2="270.5" y2="624.5" stroke="#a8a8a8" stroke-width="1"/>
<line x1="275.5" y1="411" x2="275.5" y2="412.5" stroke="#a8a8a8" stroke-width="1"/>
<line x1="275.5" y1="422.5" x2="275.5" y2="424" stroke="#a8a8a8" stroke-width="1"/>
<line x1="275.5" y1="623" x2="275.5" y2="624.5" stroke="#a8a8a8" stroke-width="1"/>
<line x1="280.5" y1="411" x2="280.5" y2="412.5" stroke="#a8a8a8" stroke-width="1"/>
<line x1="280.5" y1="422.5" x2="280.5" y2="424" stroke="#a8a8a8" stroke-width="1"/>
<line x1="280.5" y1="623" x2="280.5" y2="624.5" stroke="#a8a8a8" stroke-width="1"/>
<line x1="285.5" y1="411" x2="285.5" y2="412.5" stroke="#a8a8a8" stroke-width="1"/>
<line x1="285.5" y1="422.5" x2="285.5" y2="424" stroke="#a8a8a8" stroke-width="1"/>
<line x1="285.5" y1="623" x2="285.5" y2="624.5" stroke="#a8a8a8" stroke-width="1"/>
<line x1="290.5" y1="411" x2="290.5" y2="412.5" stroke="#a8a8a8" stroke-width="1"/>
<line x1="290.5" y1="422.5" x2="290.5" y2="424" stroke="#a8a8a8" stroke-width="1"/>
<line x1="290.5" y1="623" x2="290.5" y2="624.5" stroke="#a8a8a8" stroke-width="1"/>
<line x1="295.5" y1="411" x2="295.5" y2="412.5" stroke="#a8a8a8" stroke-width="1"/>
<line x1="295.5" y1="422.5" x2="295.5" y2="424" stroke="#a8a8a8" stroke-width="1"/>
<line x1="295.5" y1="623" x2="295.5" y2="624.5" stroke="#a8a8a8" stroke-width="1"/>
<line x1="300.5" y1="411" x2="300.5" y2="412.5" stroke="#a8a8a8" stroke-width="1"/>
<line x1="300.5" y1="422.5" x2="300.5" y2="424" stroke="#a8a8a8" stroke-width="1"/>
<line x1="300.5" y1="623" x2="300.5" y2="624.5" stroke="#a8a8a8" stroke-width="1"/>
<line x1="305.5" y1="411" x2="305.5" y2="412.5" stroke="#a8a8a8" stroke-width="1"/>
<line x1="305.5" y1="422.5" x2="305.5" y2="424" stroke="#a8a8a8" stroke-width="1"/>
<line x1="305.5" y1="623" x2="305.5" y2="624.5" stroke="#a8a8a8" stroke-width="1"/>
<line x1="310.5" y1="411" x2="310.5" y2="412.5" stroke="#a8a8a8" stroke-width="1"/>
<line x1="310.5" y1="422.5" x2="310.5" y2="424" stroke="#a8a8a8" stroke-width="1"/>
<line x1="310.5" y1="623" x2="310.5" y2="624.5" stroke="#a8a8a8" stroke-width="1"/>
<line x1="315.5" y1="411" x2="315.5" y2="412.5" stroke="#a8a8a8" stroke-width="1"/>
<line x1="315.5" y1="422.5" x2="315.5" y2="424" stroke="#a8a8a8" stroke-width="1"/>
<line x1="315.5" y1="623" x2="315.5" y2="624.5" stroke="#a8a8a8" stroke-width="1"/>
<line x1="320.5" y1="411" x2="320.5" y2="412.5" stroke="#a8a8a8" stroke-width="1"/>
<line x1="320.5" y1="422.5" x2="320.5" y2="424" stroke="#a8a8a8" stroke-width="1"/>
<line x1="320.5" y1="623" x2="320.5" y2="624.5" stroke="#a8a8a8" stroke-width="1"/>
<line x1="325.5" y1="411" x2="325.5" y2="412.5" stroke="#a8a8a8" stroke-width="1"/>
<line x1="325.5" y1="422.5" x2="325.5" y2="424" stroke="#a8a8a8" stroke-width="1"/>
<line x1="325.5" y1="623" x2="325.5" y2="624.5" stroke="#a8a8a8" stroke-width="1"/>
<line x1="330.5" y1="411" x2="330.5" y2="412.5" stroke="#a8a8a8" stroke-width="1"/>
<line x1="330.5" y1="422.5" x2="330.5" y2="424" stroke="#a8a8a8" stroke-width="1"/>
<line x1="330.5" y1="623" x2="330.5" y2="624.5" stroke="#a8a8a8" stroke-width="1"/>
<line x1="335.5" y1="411" x2="335.5" y2="412.5" stroke="#a8a8a8" stroke-width="1"/>
<line x1="335.5" y1="422.5" x2="335.5" y2="424" stroke="#a8a8a8" stroke-width="1"/>
<line x1="335.5" y1="623" x2="335.5" y2="624.5" stroke="#a8a8a8" stroke-width="1"/>
<line x1="340.5" y1="411" x2="340.5" y2="412.5" stroke="#a8a8a8" stroke-width="1"/>
<line x1="340.5" y1="422.5" x2="340.5" y2="424" stroke="#a8a8a8" stroke-width="1"/>
<line x1="340.5" y1="623" x2="340.5" y2="624.5" stroke="#a8a8a8" stroke-width="1"/>
<line x1="345.5" y1="411" x2="345.5" y2="412.5" stroke="#a8a8a8" stroke-width="1"/>
<line x1="345.5" y1="422.5" x2="345.5" y2="424" stroke="#a8a8a8" stroke-width="1"/>
<line x1="345.5" y1="623" x2="345.5" y2="624.5" stroke="#a8a8a8" stroke-width="1"/>
<line x1="350.5" y1="411" x2="350.5" y2="412.5" stroke="#a8a8a8" stroke-width="1"/>
<line x1="350.5" y1="422.5" x2="350.5" y2="424" stroke="#a8a8a8" stroke-width="1"/>
<line x1="350.5" y1="623" x2="350.5" y2="624.5" stroke="#a8a8a8" stroke-width="1"/>
<line x1="355.5" y1="411" x2="355.5" y2="412.5" stroke="#a8a8a8" stroke-width="1"/>
<line x1="355.5" y1="422.5" x2="355.5" y2="424" stroke="#a8a8a8" stroke-width="1"/>
<line x1="355.5" y1="623" x2="355.5" y2="624.5" stroke="#a8a8a8" stroke-width="1"/>
<line x1="360.5" y1="411" x2="360.5" y2="412.5" stroke="#a8a8a8" stroke-width="1"/>
<line x1="360.5" y1="422.5" x2="360.5" y2="424" stroke="#a8a8a8" stroke-width="1"/>
<line x1="360.5" y1="623" x2="360.5" y2="624.5" stroke="#a8a8a8" stroke-width="1"/>
<line x1="365.5" y1="411" x2="365.5" y2="412.5" stroke="#a8a8a8" stroke-width="1"/>
<line x1="365.5" y1="422.5" x2="365.5" y2="424" stroke="#a8a8a8" stroke-width="1"/>
<line x1="365.5" y1="623" x2="365.5" y2="624.5" stroke="#a8a8a8" stroke-width="1"/>
<line x1="370.5" y1="411" x2="370.5" y2="412.5" stroke="#a8a8a8" stroke-width="1"/>
<line x1="370.5" y1="422.5" x2="370.5" y2="424" stroke="#a8a8a8" stroke-width="1"/>
<line x1="370.5" y1="623" x2="370.5" y2="624.5" stroke="#a8a8a8" stroke-width="1"/>
<line x1="375.5" y1="411" x2="375.5" y2="412.5" stroke="#a8a8a8" stroke-width="1"/>
<line x1="375.5" y1="422.5" x2="375.5" y2="424" stroke="#a8a8a8" stroke-width="1"/>
<line x1="375.5" y1="623" x2="375.5" y2="624.5" stroke="#a8a8a8" stroke-width="1"/>
<line x1="380.5" y1="411" x2="380.5" y2="412.5" stroke="#a8a8a8" stroke-width="1"/>
<line x1="380.5" y1="422.5" x2="380.5" y2="424" stroke="#a8a8a8" stroke-width="1"/>
<line x1="380.5" y1="623" x2="380.5" y2="624.5" stroke="#a8a8a8" stroke-width="1"/>
<line x1="385.5" y1="411" x2="385.5" y2="412.5" stroke="#a8a8a8" stroke-width="1"/>
<line x1="385.5" y1="422.5" x2="385.5" y2="424" stroke="#a8a8a8" stroke-width="1"/>
<line x1="385.5" y1="623" x2="385.5" y2="624.5" stroke="#a8a8a8" stroke-width="1"/>
<line x1="390.5" y1="411" x2="390.5" y2="412.5" stroke="#a8a8a8" stroke-width="1"/>
<line x1="390.5" y1="422.5" x2="390.5" y2="424" stroke="#a8a8a8" stroke-width="1"/>
<line x1="390.5" y1="623" x2="390.5" y2="624.5" stroke="#a8a8a8" stroke-width="1"/>
<line x1="395.5" y1="411" x2="395.5" y2="412.5" stroke="#a8a8a8" stroke-width="1"/>
<line x1="395.5" y1="422.5" x2="395.5" y2="424" stroke="#a8a8a8" stroke-width="1"/>
<line x1="395.5" y1="623" x2="395.5" y2="624.5" stroke="#a8a8a8" stroke-width="1"/>
<line x1="400.5" y1="411" x2="400.5" y2="412.5" stroke="#a8a8a8" stroke-width="1"/>
<line x1="400.5" y1="422.5" x2="400.5" y2="424" stroke="#a8a8a8" stroke-width="1"/>
<line x1="400.5" y1="623" x2="400.5" y2="624.5" stroke="#a8a8a8" stroke-width="1"/>
<line x1="405.5" y1="411" x2="405.5" y2="412.5" stroke="#a8a8a8" stroke-width="1"/>
<line x1="405.5" y1="422.5" x2="405.5" y2="424" stroke="#a8a8a8" stroke-width="1"/>
<line x1="405.5" y1="623" x2="405.5" y2="624.5" stroke="#a8a8a8" stroke-width="1"/>
<line x1="410.5" y1="411" x2="410.5" y2="412.5" stroke="#a8a8a8" stroke-width="1"/>
<line x1="410.5" y1="422.5" x2="410.5" y2="424" stroke="#a8a8a8" stroke-width="1"/>
<line x1="410.5" y1="623" x2="410.5" y2="624.5" stroke="#a8a8a8" stroke-width="1"/>
<line x1="415.5" y1="411" x2="415.5" y2="412.5" stroke="#a8a8a8" stroke-width="1"/>
<line x1="415.5" y1="422.5" x2="415.5" y2="424" stroke="#a8a8a8" stroke-width="1"/>
<line x1="415.5" y1="623" x2="415.5" y2="624.5" stroke="#a8a8a8" stroke-width="1"/>
<line x1="420.5" y1="411" x2="420.5" y2="412.5" stroke="#a8a8a8" stroke-width="1"/>
<line x1="420.5" y1="422.5" x2="420.5" y2="424" stroke="#a8a8a8" stroke-width="1"/>
<line x1="420.5" y1="623" x2="420.5" y2="624.5" stroke="#a8a8a8" stroke-width="1"/>
<line x1="425.5" y1="411" x2="425.5" y2="412.5" stroke="#a8a8a8" stroke-width="1"/>
<line x1="425.5" y1="422.5" x2="425.5" y2="424" stroke="#a8a8a8" stroke-width="1"/>
<line x1="425.5" y1="623" x2="425.5" y2="624.5" stroke="#a8a8a8" stroke-width="1"/>
<line x1="430.5" y1="411" x2="430.5" y2="412.5" stroke="#a8a8a8" stroke-width="1"/>
<line x1="430.5" y1="422.5" x2="430.5" y2="424" stroke="#a8a8a8" stroke-width="1"/>
<line x1="430.5" y1="623" x2="430.5" y2="624.5" stroke="#a8a8a8" stroke-width="1"/>
<line x1="435.5" y1="411" x2="435.5" y2="412.5" stroke="#a8a8a8" stroke-width="1"/>
<line x1="435.5" y1="422.5" x2="435.5" y2="424" stroke="#a8a8a8" stroke-width="1"/>
<line x1="435.5" y1="623" x2="435.5" y2="624.5" stroke="#a8a8a8" stroke-width="1"/>
<line x1="440.5" y1="411" x2="440.5" y2="412.5" stroke="#a8a8a8" stroke-width="1"/>
<line x1="440.5" y1="422.5" x2="440.5" y2="424" stroke="#a8a8a8" stroke-width="1"/>
<line x1="440.5" y1="623" x2="440.5" y2="624.5" stroke="#a8a8a8" stroke-width="1"/>
<line x1="445.5" y1="411" x2="445.5" y2="412.5" stroke="#a8a8a8" stroke-width="1"/>
<line x1="445.5" y1="422.5" x2="445.5" y2="424" stroke="#a8a8a8" stroke-width="1"/>
<line x1="445.5" y1="623" x2="445.5" y2="624.5" stroke="#a8a8a8" stroke-width="1"/>
<line x1="450.5" y1="411" x2="450.5" y2="412.5" stroke="#a8a8a8" stroke-width="1"/>
<line x1="450.5" y1="422.5" x2="450.5" y2="424" stroke="#a8a8a8" stroke-width="1"/>
<line x1="450.5" y1="623" x2="450.5" y2="624.5" stroke="#a8a8a8" stroke-width="1"/>
<line x1="455.5" y1="411" x2="455.5" y2="412.5" stroke="#a8a8a8" stroke-width="1"/>
<line x1="455.5" y1="422.5" x2="455.5" y2="424" stroke="#a8a8a8" stroke-width="1"/>
<line x1="455.5" y1="623" x2="455.5" y2="624.5" stroke="#a8a8a8" stroke-width="1"/>
<line x1="460.5" y1="411" x2="460.5" y2="412.5" stroke="#a8a8a8" stroke-width="1"/>
<line x1="460.5" y1="422.5" x2="460.5" y2="424" stroke="#a8a8a8" stroke-width="1"/>
<line x1="460.5" y1="623" x2="460.5" y2="624.5" stroke="#a8a8a8" stroke-width="1"/>
<line x1="465.5" y1="411" x2="465.5" y2="412.5" stroke="#a8a8a8" stroke-width="1"/>
<line x1="465.5" y1="422.5" x2="465.5" y2="424" stroke="#a8a8a8" stroke-width="1"/>
<line x1="465.5" y1="623" x2="465.5" y2="624.5" stroke="#a8a8a8" stroke-width="1"/>
<line x1="470.5" y1="411" x2="470.5" y2="412.5" stroke="#a8a8a8" stroke-width="1"/>
<line x1="470.5" y1="422.5" x2="470.5" y2="424" stroke="#a8a8a8" stroke-width="1"/>
<line x1="470.5" y1="623" x2="470.5" y2="624.5" stroke="#a8a8a8" stroke-width="1"/>
<line x1="475.5" y1="411" x2="475.5" y2="412.5" stroke="#a8a8a8" stroke-width="1"/>
<line x1="475.5" y1="422.5" x2="475.5" y2="424" stroke="#a8a8a8" stroke-width="1"/>
<line x1="475.5" y1="623" x2="475.5" y2="624.5" stroke="#a8a8a8" stroke-width="1"/>
<line x1="480.5" y1="411" x2="480.5" y2="412.5" stroke="#a8a8a8" stroke-width="1"/>
<line x1="480.5" y1="422.5" x2="480.5" y2="424" stroke="#a8a8a8" stroke-width="1"/>
<line x1="480.5" y1="623" x2="480.5" y2="624.5" stroke="#a8a8a8" stroke-width="1"/>
<line x1="485.5" y1="411" x2="485.5" y2="412.5" stroke="#a8a8a8" stroke-width="1"/>
<line x1="485.5" y1="422.5" x2="485.5" y2="424" stroke="#a8a8a8" stroke-width="1"/>
<line x1="485.5" y1="623" x2="485.5" y2="624.5" stroke="#a8a8a8" stroke-width="1"/>
<line x1="490.5" y1="411" x2="490.5" y2="412.5" stroke="#a8a8a8" stroke-width="1"/>
<line x1="490.5" y1="422.5" x2="490.5" y2="424" stroke="#a8a8a8" stroke-width="1"/>
<line x1="490.5" y1="623" x2="490.5" y2="624.5" stroke="#a8a8a8" stroke-width="1"/>
<line x1="495.5" y1="411" x2="495.5" y2="412.5" stroke="#a8a8a8" stroke-width="1"/>
<line x1="495.5" y1="422.5" x2="495.5" y2="424" stroke="#a8a8a8" stroke-width="1"/>
<line x1="495.5" y1="623" x2="495.5" y2="624.5" stroke="#a8a8a8" stroke-width="1"/>
<line x1="500.5" y1="411" x2="500.5" y2="412.5" stroke="#a8a8a8" stroke-width="1"/>
<line x1="500.5" y1="422.5" x2="500.5" y2="424" stroke="#a8a8a8" stroke-width="1"/>
<line x1="500.5" y1="623" x2="500.5" y2="624.5" stroke="#a8a8a8" stroke-width="1"/>
<line x1="505.5" y1="411" x2="505.5" y2="412.5" stroke="#a8a8a8" stroke-width="1"/>
<line x1="505.5" y1="422.5" x2="505.5" y2="424" stroke="#a8a8a8" stroke-width="1"/>
<line x1="505.5" y1="623" x2="505.5" y2="624.5" stroke="#a8a8a8" stroke-width="1"/>
<line x1="510.5" y1="411" x2="510.5" y2="412.5" stroke="#a8a8a8" stroke-width="1"/>
<line x1="510.5" y1="422.5" x2="510.5" y2="424" stroke="#a8a8a8" stroke-width="1"/>
<line x1="510.5" y1="623" x2="510.5" y2="624.5" stroke="#a8a8a8" stroke-width="1"/>
<line x1="515.5" y1="411" x2="515.5" y2="412.5" stroke="#a8a8a8" stroke-width="1"/>
<line x1="515.5" y1="422.5" x2="515.5" y2="424" stroke="#a8a8a8" stroke-width="1"/>
<line x1="515.5" y1="623" x2="515.5" y2="624.5" stroke="#a8a8a8" stroke-width="1"/>
<line x1="520.5" y1="411" x2="520.5" y2="412.5" stroke="#a8a8a8" stroke-width="1"/>
<line x1="520.5" y1="422.5" x2="520.5" y2="424" stroke="#a8a8a8" stroke-width="1"/>
<line x1="520.5" y1="623" x2="520.5" y2="624.5" stroke="#a8a8a8" stroke-width="1"/>
<line x1="525.5" y1="411" x2="525.5" y2="412.5" stroke="#a8a8a8" stroke-width="1"/>
<line x1="525.5" y1="422.5" x2="525.5" y2="424" stroke="#a8a8a8" stroke-width="1"/>
<line x1="525.5" y1="623" x2="525.5" y2="624.5" stroke="#a8a8a8" stroke-width="1"/>
<line x1="530.5" y1="411" x2="530.5" y2="412.5" stroke="#a8a8a8" stroke-width="1"/>
<line x1="530.5" y1="422.5" x2="530.5" y2="424" stroke="#a8a8a8" stroke-width="1"/>
<line x1="530.5" y1="623" x2="530.5" y2="624.5" stroke="#a8a8a8" stroke-width="1"/>
<line x1="535.5" y1="411" x2="535.5" y2="412.5" stroke="#a8a8a8" stroke-width="1"/>
<line x1="535.5" y1="422.5" x2="535.5" y2="424" stroke="#a8a8a8" stroke-width="1"/>
<line x1="535.5" y1="623" x2="535.5" y2="624.5" stroke="#a8a8a8" stroke-width="1"/>
<line x1="540.5" y1="411" x2="540.5" y2="412.5" stroke="#a8a8a8" stroke-width="1"/>
<line x1="540.5" y1="422.5" x2="540.5" y2="424" stroke="#a8a8a8" stroke-width="1"/>
<line x1="540.5" y1="623" x2="540.5" y2="624.5" stroke="#a8a8a8" stroke-width="1"/>
<line x1="545.5" y1="411" x2="545.5" y2="412.5" stroke="#a8a8a8" stroke-width="1"/>
<line x1="545.5" y1="422.5" x2="545.5" y2="424" stroke="#a8a8a8" stroke-width="1"/>
<line x1="545.5" y1="623" x2="545.5" y2="624.5" stroke="#a8a8a8" stroke-width="1"/>
<line x1="550.5" y1="411" x2="550.5" y2="412.5" stroke="#a8a8a8" stroke-width="1"/>
<line x1="550.5" y1="422.5" x2="550.5" y2="424" stroke="#a8a8a8" stroke-width="1"/>
<line x1="550.5" y1="623" x2="550.5" y2="624.5" stroke="#a8a8a8" stroke-width="1"/>
<line x1="555.5" y1="411" x2="555.5" y2="412.5" stroke="#a8a8a8" stroke-width="1"/>
<line x1="555.5" y1="422.5" x2="555.5" y2="424" stroke="#a8a8a8" stroke-width="1"/>
<line x1="555.5" y1="623" x2="555.5" y2="624.5" stroke="#a8a8a8" stroke-width="1"/>
<line x1="560.5" y1="411" x2="560.5" y2="412.5" stroke="#a8a8a8" stroke-width="1"/>
<line x1="560.5" y1="422.5" x2="560.5" y2="424" stroke="#a8a8a8" stroke-width="1"/>
<line x1="560.5" y1="623" x2="560.5" y2="624.5" stroke="#a8a8a8" stroke-width="1"/>
<line x1="565.5" y1="411" x2="565.5" y2="412.5" stroke="#a8a8a8" stroke-width="1"/>
<line x1="565.5" y1="422.5" x2="565.5" y2="424" stroke="#a8a8a8" stroke-width="1"/>
<line x1="565.5" y1="623" x2="565.5" y2="624.5" stroke="#a8a8a8" stroke-width="1"/>
<line x1="570.5" y1="411" x2="570.5" y2="412.5" stroke="#a8a8a8" stroke-width="1"/>
<line x1="570.5" y1="422.5" x2="570.5" y2="424" stroke="#a8a8a8" stroke-width="1"/>
<line x1="570.5" y1="623" x2="570.5" y2="624.5" stroke="#a8a8a8" stroke-width="1"/>
<line x1="575.5" y1="411" x2="575.5" y2="412.5" stroke="#a8a8a8" stroke-width="1"/>
<line x1="575.5" y1="422.5" x2="575.5" y2="424" stroke="#a8a8a8" stroke-width="1"/>
<line x1="575.5" y1="623" x2="575.5" y2="624.5" stroke="#a8a8a8" stroke-width="1"/>
<line x1="580.5" y1="411" x2="580.5" y2="412.5" stroke="#a8a8a8" stroke-width="1"/>
<line x1="580.5" y1="422.5" x2="580.5" y2="424" stroke="#a8a8a8" stroke-width="1"/>
<line x1="580.5" y1="623" x2="580.5" y2="624.5" stroke="#a8a8a8" stroke-width="1"/>
<line x1="585.5" y1="411" x2="585.5" y2="412.5" stroke="#a8a8a8" stroke-width="1"/>
<line x1="585.5" y1="422.5" x2="585.5" y2="424" stroke="#a8a8a8" stroke-width="1"/>
<line x1="585.5" y1="623" x2="585.5" y2="624.5" stroke="#a8a8a8" stroke-width="1"/>
<line x1="590.5" y1="411" x2="590.5" y2="412.5" stroke="#a8a8a8" stroke-width="1"/>
<line x1="590.5" y1="422.5" x2="590.5" y2="424" stroke="#a8a8a8" stroke-width="1"/>
<line x1="590.5" y1="623" x2="590.5" y2="624.5" stroke="#a8a8a8" stroke-width="1"/>
<line x1="595.5" y1="411" x2="595.5" y2="412.5" stroke="#a8a8a8" stroke-width="1"/>
<line x1="595.5" y1="422.5" x2="595.5" y2="424" stroke="#a8a8a8" stroke-width="1"/>
<line x1="595.5" y1="623" x2="595.5" y2="624.5" stroke="#a8a8a8" stroke-width="1"/>
<line x1="600.5" y1="411" x2="600.5" y2="412.5" stroke="#a8a8a8" stroke-width="1"/>
<line x1="600.5" y1="422.5" x2="600.5" y2="424" stroke="#a8a8a8" stroke-width="1"/>
<line x1="600.5" y1="623" x2="600.5" y2="624.5" stroke="#a8a8a8" stroke-width="1"/>
<line x1="605.5" y1="411" x2="605.5" y2="412.5" stroke="#a8a8a8" stroke-width="1"/>
<line x1="605.5" y1="422.5" x2="605.5" y2="424" stroke="#a8a8a8" stroke-width="1"/>
<line x1="605.5" y1="623" x2="605.5" y2="624.5" stroke="#a8a8a8" stroke-width="1"/>
<line x1="610.5" y1="411" x2="610.5" y2="412.5" stroke="#a8a8a8" stroke-width="1"/>
<line x1="610.5" y1="422.5" x2="610.5" y2="424" stroke="#a8a8a8" stroke-width="1"/>
<line x1="610.5" y1="623" x2="610.5" y2="624.5" stroke="#a8a8a8" stroke-width="1"/>
<line x1="615.5" y1="411" x2="615.5" y2="412.5" stroke="#a8a8a8" stroke-width="1"/>
<line x1="615.5" y1="422.5" x2="615.5" y2="424" stroke="#a8a8a8" stroke-width="1"/>
<line x1="615.5" y1="623" x2="615.5" y2="624.5" stroke="#a8a8a8" stroke-width="1"/>
<line x1="620.5" y1="411" x2="620.5" y2="412.5" stroke="#a8a8a8" stroke-width="1"/>
<line x1="620.5" y1="422.5" x2="620.5" y2="424" stroke="#a8a8a8" stroke-width="1"/>
<line x1="620.5" y1="623" x2="620.5" y2="624.5" stroke="#a8a8a8" stroke-width="1"/>
<line x1="625.5" y1="411" x2="625.5" y2="412.5" stroke="#a8a8a8" stroke-width="1"/>
<line x1="625.5" y1="422.5" x2="625.5" y2="424" stroke="#a8a8a8" stroke-width="1"/>
<line x1="625.5" y1="623" x2="625.5" y2="624.5" stroke="#a8a8a8" stroke-width="1"/>
<line x1="630.5" y1="411" x2="630.5" y2="412.5" stroke="#a8a8a8" stroke-width="1"/>
<line x1="630.5" y1="422.5" x2="630.5" y2="424" stroke="#a8a8a8" stroke-width="1"/>
<line x1="630.5" y1="623" x2="630.5" y2="624.5" stroke="#a8a8a8" stroke-width="1"/>
<line x1="635.5" y1="411" x2="635.5" y2="412.5" stroke="#a8a8a8" stroke-width="1"/>
<line x1="635.5" y1="422.5" x2="635.5" y2="424" stroke="#a8a8a8" stroke-width="1"/>
<line x1="635.5" y1="623" x2="635.5" y2="624.5" stroke="#a8a8a8" stroke-width="1"/>
<line x1="640.5" y1="411" x2="640.5" y2="412.5" stroke="#a8a8a8" stroke-width="1"/>
<line x1="640.5" y1="422.5" x2="640.5" y2="424" stroke="#a8a8a8" stroke-width="1"/>
<line x1="640.5" y1="623" x2="640.5" y2="624.5" stroke="#a8a8a8" stroke-width="1"/>
<line x1="645.5" y1="411" x2="645.5" y2="412.5" stroke="#a8a8a8" stroke-width="1"/>
<line x1="645.5" y1="422.5" x2="645.5" y2="424" stroke="#a8a8a8" stroke-width="1"/>
<line x1="645.5" y1="623" x2="645.5" y2="624.5" stroke="#a8a8a8" stroke-width="1"/>
<line x1="650.5" y1="411" x2="650.5" y2="412.5" stroke="#a8a8a8" stroke-width="1"/>
<line x1="650.5" y1="422.5" x2="650.5" y2="424" stroke="#a8a8a8" stroke-width="1"/>
<line x1="650.5" y1="623" x2="650.5" y2="624.5" stroke="#a8a8a8" stroke-width="1"/>
<line x1="655.5" y1="411" x2="655.5" y2="412.5" stroke="#a8a8a8" stroke-width="1"/>
<line x1="655.5" y1="422.5" x2="655.5" y2="424" stroke="#a8a8a8" stroke-width="1"/>
<line x1="655.5" y1="623" x2="655.5" y2="624.5" stroke="#a8a8a8" stroke-width="1"/>
<rect x="17" y="29" width="95" height="11" fill="#fff"/>
<path d="M19.5,38.5 L21.5,34 L23,35.5 L24.5,31 L26,35 L27.5,33.5 L28.5,38.5 Z" fill="#6aa56a" stroke="#000" stroke-width="0.9"/>
<text x="31.2" y="39" font-family="'DejaVu Sans', sans-serif" font-size="9.6" font-weight="normal" fill="#000" stroke="#000" stroke-width="0.0" text-anchor="start" textLength="79.2" lengthAdjust="spacingAndGlyphs">RSI(14) 64.00</text>
<rect x="17" y="129" width="148" height="11" fill="#fff"/>
<rect x="17" y="140" width="78" height="11" fill="#fff"/>
<rect x="17" y="151" width="83" height="11" fill="#fff"/>
<rect x="17" y="162" width="166.5" height="10.5" fill="#fff"/>
<rect x="17" y="172.5" width="76.5" height="10" fill="#fff"/>
<g stroke="#000" stroke-width="1"><line x1="20.5" y1="130" x2="20.5" y2="137"/><rect x="19.5" y="131.5" width="2" height="3" fill="#fff"/><line x1="23.5" y1="136" x2="23.5" y2="138"/><rect x="22" y="133" width="3" height="4" fill="#000" stroke="none"/><line x1="26.5" y1="130" x2="26.5" y2="138"/><rect x="25.5" y="131.5" width="2" height="5" fill="#fff"/></g>
<text x="31.3" y="138" font-family="'DejaVu Sans', sans-serif" font-size="9.6" font-weight="normal" fill="#000" stroke="#000" stroke-width="0.0" text-anchor="start" textLength="132" lengthAdjust="spacingAndGlyphs">$USDJPY (Daily) 149.77</text>
<line x1="18" y1="145.5" x2="27" y2="145.5" stroke="#1a1a8c" stroke-width="2"/>
<text x="29.8" y="148.6" font-family="'Liberation Sans', Arial, sans-serif" font-size="9.5" font-weight="normal" fill="#000080" stroke="#000080" stroke-width="0.12" text-anchor="start" textLength="63.6" lengthAdjust="spacingAndGlyphs">MA(50) 147.68</text>
<line x1="18" y1="156.5" x2="27" y2="156.5" stroke="#d10030" stroke-width="2"/>
<text x="29.8" y="159.3" font-family="'Liberation Sans', Arial, sans-serif" font-size="9.5" font-weight="normal" fill="#c8002d" stroke="#c8002d" stroke-width="0.12" text-anchor="start" textLength="68.8" lengthAdjust="spacingAndGlyphs">MA(200) 148.53</text>
<line x1="18" y1="167.5" x2="27" y2="167.5" stroke="#1e6e1e" stroke-width="2"/>
<text x="29.8" y="170.2" font-family="'Liberation Sans', Arial, sans-serif" font-size="9.5" font-weight="normal" fill="#005a00" stroke="#005a00" stroke-width="0.12" text-anchor="start" textLength="152.1" lengthAdjust="spacingAndGlyphs">BB(20,2.0) 146.23 - 147.71 - 149.18</text>
<g fill="#b0b0b0" stroke="#454545" stroke-width="1"><rect x="19.5" y="176.5" width="2" height="4"/><rect x="22.5" y="173.5" width="2" height="7"/><rect x="25.5" y="175.5" width="2" height="5"/></g>
<text x="29.8" y="180.2" font-family="'Liberation Sans', Arial, sans-serif" font-size="9.5" font-weight="normal" fill="#333" stroke="#333" stroke-width="0.12" text-anchor="start" textLength="62.3" lengthAdjust="spacingAndGlyphs">Volume undef</text>
<rect x="17" y="425" width="216" height="11" fill="#fff"/>
<line x1="18" y1="431.5" x2="27" y2="431.5" stroke="#000" stroke-width="2"/>
<text x="31.3" y="435" font-family="'DejaVu Sans', sans-serif" font-size="9.6" font-weight="normal" fill="#000" stroke="#000" stroke-width="0.0" text-anchor="start" textLength="199.8" lengthAdjust="spacingAndGlyphs">MACD(12,26,9) 0.287<tspan fill="#ff0000">, 0.087</tspan><tspan fill="#3399cc">, 0.200</tspan></text>
<rect x="17" y="524" width="228" height="11" fill="#fff"/>
<line x1="18" y1="530.5" x2="27" y2="530.5" stroke="#000" stroke-width="2"/>
<text x="31.2" y="534" font-family="'DejaVu Sans', sans-serif" font-size="9.6" font-weight="normal" fill="#000" stroke="#000" stroke-width="0.0" text-anchor="start" textLength="212.3" lengthAdjust="spacingAndGlyphs">Slow STO %K(14) %D(3) 85.66<tspan fill="#ff0000">, 74.68</tspan></text>
<text x="666.3" y="47.2" font-family="'Liberation Sans', Arial, sans-serif" font-size="9.8" font-weight="normal" fill="#000" stroke="#000" stroke-width="0.1" text-anchor="start" letter-spacing="0.35">90</text>
<text x="666.3" y="64.2" font-family="'Liberation Sans', Arial, sans-serif" font-size="9.8" font-weight="normal" fill="#000" stroke="#000" stroke-width="0.1" text-anchor="start" letter-spacing="0.35">70</text>
<text x="666.3" y="81.2" font-family="'Liberation Sans', Arial, sans-serif" font-size="9.8" font-weight="normal" fill="#000" stroke="#000" stroke-width="0.1" text-anchor="start" letter-spacing="0.35">50</text>
<text x="666.3" y="98.2" font-family="'Liberation Sans', Arial, sans-serif" font-size="9.8" font-weight="normal" fill="#000" stroke="#000" stroke-width="0.1" text-anchor="start" letter-spacing="0.35">30</text>
<text x="666.3" y="115.2" font-family="'Liberation Sans', Arial, sans-serif" font-size="9.8" font-weight="normal" fill="#000" stroke="#000" stroke-width="0.1" text-anchor="start" letter-spacing="0.35">10</text>
<text x="666.3" y="404.2" font-family="'Liberation Sans', Arial, sans-serif" font-size="9.8" font-weight="normal" fill="#000" stroke="#000" stroke-width="0.1" text-anchor="start" letter-spacing="0.35">140</text>
<text x="666.3" y="378.2" font-family="'Liberation Sans', Arial, sans-serif" font-size="9.8" font-weight="normal" fill="#000" stroke="#000" stroke-width="0.1" text-anchor="start" letter-spacing="0.35">141</text>
<text x="666.3" y="353.2" font-family="'Liberation Sans', Arial, sans-serif" font-size="9.8" font-weight="normal" fill="#000" stroke="#000" stroke-width="0.1" text-anchor="start" letter-spacing="0.35">142</text>
<text x="666.3" y="328.2" font-family="'Liberation Sans', Arial, sans-serif" font-size="9.8" font-weight="normal" fill="#000" stroke="#000" stroke-width="0.1" text-anchor="start" letter-spacing="0.35">143</text>
<text x="666.3" y="304.2" font-family="'Liberation Sans', Arial, sans-serif" font-size="9.8" font-weight="normal" fill="#000" stroke="#000" stroke-width="0.1" text-anchor="start" letter-spacing="0.35">144</text>
<text x="666.3" y="279.2" font-family="'Liberation Sans', Arial, sans-serif" font-size="9.8" font-weight="normal" fill="#000" stroke="#000" stroke-width="0.1" text-anchor="start" letter-spacing="0.35">145</text>
<text x="666.3" y="255.2" font-family="'Liberation Sans', Arial, sans-serif" font-size="9.8" font-weight="normal" fill="#000" stroke="#000" stroke-width="0.1" text-anchor="start" letter-spacing="0.35">146</text>
<text x="666.3" y="231.2" font-family="'Liberation Sans', Arial, sans-serif" font-size="9.8" font-weight="normal" fill="#000" stroke="#000" stroke-width="0.1" text-anchor="start" letter-spacing="0.35">147</text>
<text x="666.3" y="207.2" font-family="'Liberation Sans', Arial, sans-serif" font-size="9.8" font-weight="normal" fill="#000" stroke="#000" stroke-width="0.1" text-anchor="start" letter-spacing="0.35">148</text>
<text x="666.3" y="183.2" font-family="'Liberation Sans', Arial, sans-serif" font-size="9.8" font-weight="normal" fill="#000" stroke="#000" stroke-width="0.1" text-anchor="start" letter-spacing="0.35">149</text>
<text x="666.3" y="159.2" font-family="'Liberation Sans', Arial, sans-serif" font-size="9.8" font-weight="normal" fill="#000" stroke="#000" stroke-width="0.1" text-anchor="start" letter-spacing="0.35">150</text>
<text x="666.3" y="136.2" font-family="'Liberation Sans', Arial, sans-serif" font-size="9.8" font-weight="normal" fill="#000" stroke="#000" stroke-width="0.1" text-anchor="start" letter-spacing="0.35">151</text>
<text x="684" y="436.2" font-family="'Liberation Sans', Arial, sans-serif" font-size="9.8" font-weight="normal" fill="#000" stroke="#000" stroke-width="0.1" text-anchor="end" letter-spacing="0.35">1.0</text>
<text x="684" y="449.2" font-family="'Liberation Sans', Arial, sans-serif" font-size="9.8" font-weight="normal" fill="#000" stroke="#000" stroke-width="0.1" text-anchor="end" letter-spacing="0.35">0.5</text>
<text x="684" y="463.2" font-family="'Liberation Sans', Arial, sans-serif" font-size="9.8" font-weight="normal" fill="#000" stroke="#000" stroke-width="0.1" text-anchor="end" letter-spacing="0.35">0.0</text>
<text x="684" y="476.2" font-family="'Liberation Sans', Arial, sans-serif" font-size="9.8" font-weight="normal" fill="#000" stroke="#000" stroke-width="0.1" text-anchor="end" letter-spacing="0.35">-0.5</text>
<text x="684" y="490.2" font-family="'Liberation Sans', Arial, sans-serif" font-size="9.8" font-weight="normal" fill="#000" stroke="#000" stroke-width="0.1" text-anchor="end" letter-spacing="0.35">-1.0</text>
<text x="684" y="503.2" font-family="'Liberation Sans', Arial, sans-serif" font-size="9.8" font-weight="normal" fill="#000" stroke="#000" stroke-width="0.1" text-anchor="end" letter-spacing="0.35">-1.5</text>
<text x="684" y="517.2" font-family="'Liberation Sans', Arial, sans-serif" font-size="9.8" font-weight="normal" fill="#000" stroke="#000" stroke-width="0.1" text-anchor="end" letter-spacing="0.35">-2.0</text>
<text x="666.3" y="550.2" font-family="'Liberation Sans', Arial, sans-serif" font-size="9.8" font-weight="normal" fill="#000" stroke="#000" stroke-width="0.1" text-anchor="start" letter-spacing="0.35">80</text>
<text x="666.3" y="576.2" font-family="'Liberation Sans', Arial, sans-serif" font-size="9.8" font-weight="normal" fill="#000" stroke="#000" stroke-width="0.1" text-anchor="start" letter-spacing="0.35">50</text>
<text x="666.3" y="601.2" font-family="'Liberation Sans', Arial, sans-serif" font-size="9.8" font-weight="normal" fill="#000" stroke="#000" stroke-width="0.1" text-anchor="start" letter-spacing="0.35">20</text>
<polygon points="660.5,65.5 665,60.5 694.5,60.5 694.5,70.5 665,70.5" fill="#fff" stroke="#000" stroke-width="1"/>
<text x="665.2" y="68.5" font-family="'Liberation Sans', Arial, sans-serif" font-size="9.6" font-weight="normal" fill="#000" stroke="#000" stroke-width="0.1" text-anchor="start" letter-spacing="0.3">64.00</text>
<polygon points="660.5,210.5 665,205.5 699.5,205.5 699.5,215.5 665,215.5" fill="#fff" stroke="#1a1a8c" stroke-width="1"/>
<text x="665.2" y="213.9" font-family="'Liberation Sans', Arial, sans-serif" font-size="9.6" font-weight="normal" fill="#000" stroke="#000" stroke-width="0.1" text-anchor="start" letter-spacing="0.5">147.68</text>
<polygon points="660.5,245.5 665,240.5 699.5,240.5 699.5,250.5 665,250.5" fill="#fff" stroke="#1e6e1e" stroke-width="1"/>
<text x="665.2" y="248.9" font-family="'Liberation Sans', Arial, sans-serif" font-size="9.6" font-weight="normal" fill="#000" stroke="#000" stroke-width="0.1" text-anchor="start" letter-spacing="0.5">146.23</text>
<polygon points="660.5,190.5 665,185.5 699.5,185.5 699.5,195.5 665,195.5" fill="#fff" stroke="#d10030" stroke-width="1"/>
<text x="665.2" y="193.9" font-family="'Liberation Sans', Arial, sans-serif" font-size="9.6" font-weight="normal" fill="#000" stroke="#000" stroke-width="0.1" text-anchor="start" letter-spacing="0.5">148.53</text>
<polygon points="660.5,175.5 665,170.5 699.5,170.5 699.5,180.5 665,180.5" fill="#fff" stroke="#1e6e1e" stroke-width="1"/>
<text x="665.2" y="178.9" font-family="'Liberation Sans', Arial, sans-serif" font-size="9.6" font-weight="normal" fill="#000" stroke="#000" stroke-width="0.1" text-anchor="start" letter-spacing="0.5">149.18</text>
<polygon points="660.5,161.0 665,155.5 699.5,155.5 699.5,166.5 665,166.5" fill="#fff" stroke="#000" stroke-width="2"/>
<text x="665" y="164.6" font-family="'Liberation Sans', Arial, sans-serif" font-size="10" font-weight="bold" fill="#000" stroke="#000" stroke-width="0.45" text-anchor="start" textLength="32.6" lengthAdjust="spacingAndGlyphs">149.77</text>
<polygon points="660.5,457.5 665,453.5 693.5,453.5 693.5,461.5 665,461.5" fill="#fff" stroke="#ff0000" stroke-width="1"/>
<text x="665.2" y="460.5" font-family="'Liberation Sans', Arial, sans-serif" font-size="9.6" font-weight="normal" fill="#000" stroke="#000" stroke-width="0.1" text-anchor="start" letter-spacing="0.3">0.087</text>
<polygon points="660.5,451.5 665,446.5 693.5,446.5 693.5,456.5 665,456.5" fill="#fff" stroke="#000" stroke-width="1"/>
<text x="665.2" y="454.5" font-family="'Liberation Sans', Arial, sans-serif" font-size="9.6" font-weight="normal" fill="#000" stroke="#000" stroke-width="0.1" text-anchor="start" letter-spacing="0.3">0.287</text>
<polygon points="660.5,552.5 665,548.5 693.5,548.5 693.5,556.5 665,556.5" fill="#fff" stroke="#ff0000" stroke-width="1"/>
<text x="665.2" y="555.5" font-family="'Liberation Sans', Arial, sans-serif" font-size="9.6" font-weight="normal" fill="#000" stroke="#000" stroke-width="0.1" text-anchor="start" letter-spacing="0.3">74.68</text>
<polygon points="660.5,542.5 665,538.5 693.5,538.5 693.5,546.5 665,546.5" fill="#fff" stroke="#000" stroke-width="1"/>
<text x="665.2" y="545.5" font-family="'Liberation Sans', Arial, sans-serif" font-size="9.6" font-weight="normal" fill="#000" stroke="#000" stroke-width="0.1" text-anchor="start" letter-spacing="0.3">85.66</text>
<text x="20.5" y="420.8" font-family="'Liberation Sans', Arial, sans-serif" font-size="10.5" font-weight="bold" fill="#000" stroke="#000" stroke-width="0.2" text-anchor="middle">Apr</text>
<text x="20.5" y="632.7" font-family="'Liberation Sans', Arial, sans-serif" font-size="10.5" font-weight="bold" fill="#000" stroke="#000" stroke-width="0.2" text-anchor="middle">Apr</text>
<text x="40.5" y="420.8" font-family="'Liberation Sans', Arial, sans-serif" font-size="9.6" font-weight="normal" fill="#000" stroke="#000" stroke-width="0.1" text-anchor="middle" letter-spacing="0.5">7</text>
<text x="40.5" y="632.7" font-family="'Liberation Sans', Arial, sans-serif" font-size="9.6" font-weight="normal" fill="#000" stroke="#000" stroke-width="0.1" text-anchor="middle" letter-spacing="0.5">7</text>
<text x="65.5" y="420.8" font-family="'Liberation Sans', Arial, sans-serif" font-size="9.6" font-weight="normal" fill="#000" stroke="#000" stroke-width="0.1" text-anchor="middle" letter-spacing="0.5">14</text>
<text x="65.5" y="632.7" font-family="'Liberation Sans', Arial, sans-serif" font-size="9.6" font-weight="normal" fill="#000" stroke="#000" stroke-width="0.1" text-anchor="middle" letter-spacing="0.5">14</text>
<text x="90.5" y="420.8" font-family="'Liberation Sans', Arial, sans-serif" font-size="9.6" font-weight="normal" fill="#000" stroke="#000" stroke-width="0.1" text-anchor="middle" letter-spacing="0.5">21</text>
<text x="90.5" y="632.7" font-family="'Liberation Sans', Arial, sans-serif" font-size="9.6" font-weight="normal" fill="#000" stroke="#000" stroke-width="0.1" text-anchor="middle" letter-spacing="0.5">21</text>
<text x="130.5" y="420.8" font-family="'Liberation Sans', Arial, sans-serif" font-size="10.5" font-weight="bold" fill="#000" stroke="#000" stroke-width="0.2" text-anchor="middle">May</text>
<text x="130.5" y="632.7" font-family="'Liberation Sans', Arial, sans-serif" font-size="10.5" font-weight="bold" fill="#000" stroke="#000" stroke-width="0.2" text-anchor="middle">May</text>
<text x="165.5" y="420.8" font-family="'Liberation Sans', Arial, sans-serif" font-size="9.6" font-weight="normal" fill="#000" stroke="#000" stroke-width="0.1" text-anchor="middle" letter-spacing="0.5">12</text>
<text x="165.5" y="632.7" font-family="'Liberation Sans', Arial, sans-serif" font-size="9.6" font-weight="normal" fill="#000" stroke="#000" stroke-width="0.1" text-anchor="middle" letter-spacing="0.5">12</text>
<text x="190.5" y="420.8" font-family="'Liberation Sans', Arial, sans-serif" font-size="9.6" font-weight="normal" fill="#000" stroke="#000" stroke-width="0.1" text-anchor="middle" letter-spacing="0.5">19</text>
<text x="190.5" y="632.7" font-family="'Liberation Sans', Arial, sans-serif" font-size="9.6" font-weight="normal" fill="#000" stroke="#000" stroke-width="0.1" text-anchor="middle" letter-spacing="0.5">19</text>
<text x="215.5" y="420.8" font-family="'Liberation Sans', Arial, sans-serif" font-size="9.6" font-weight="normal" fill="#000" stroke="#000" stroke-width="0.1" text-anchor="middle" letter-spacing="0.5">26</text>
<text x="215.5" y="632.7" font-family="'Liberation Sans', Arial, sans-serif" font-size="9.6" font-weight="normal" fill="#000" stroke="#000" stroke-width="0.1" text-anchor="middle" letter-spacing="0.5">26</text>
<text x="240.5" y="420.8" font-family="'Liberation Sans', Arial, sans-serif" font-size="10.5" font-weight="bold" fill="#000" stroke="#000" stroke-width="0.2" text-anchor="middle">Jun</text>
<text x="240.5" y="632.7" font-family="'Liberation Sans', Arial, sans-serif" font-size="10.5" font-weight="bold" fill="#000" stroke="#000" stroke-width="0.2" text-anchor="middle">Jun</text>
<text x="265.5" y="420.8" font-family="'Liberation Sans', Arial, sans-serif" font-size="9.6" font-weight="normal" fill="#000" stroke="#000" stroke-width="0.1" text-anchor="middle" letter-spacing="0.5">9</text>
<text x="265.5" y="632.7" font-family="'Liberation Sans', Arial, sans-serif" font-size="9.6" font-weight="normal" fill="#000" stroke="#000" stroke-width="0.1" text-anchor="middle" letter-spacing="0.5">9</text>
<text x="290.5" y="420.8" font-family="'Liberation Sans', Arial, sans-serif" font-size="9.6" font-weight="normal" fill="#000" stroke="#000" stroke-width="0.1" text-anchor="middle" letter-spacing="0.5">16</text>
<text x="290.5" y="632.7" font-family="'Liberation Sans', Arial, sans-serif" font-size="9.6" font-weight="normal" fill="#000" stroke="#000" stroke-width="0.1" text-anchor="middle" letter-spacing="0.5">16</text>
<text x="315.5" y="420.8" font-family="'Liberation Sans', Arial, sans-serif" font-size="9.6" font-weight="normal" fill="#000" stroke="#000" stroke-width="0.1" text-anchor="middle" letter-spacing="0.5">23</text>
<text x="315.5" y="632.7" font-family="'Liberation Sans', Arial, sans-serif" font-size="9.6" font-weight="normal" fill="#000" stroke="#000" stroke-width="0.1" text-anchor="middle" letter-spacing="0.5">23</text>
<text x="345.5" y="420.8" font-family="'Liberation Sans', Arial, sans-serif" font-size="10.5" font-weight="bold" fill="#000" stroke="#000" stroke-width="0.2" text-anchor="middle">Jul</text>
<text x="345.5" y="632.7" font-family="'Liberation Sans', Arial, sans-serif" font-size="10.5" font-weight="bold" fill="#000" stroke="#000" stroke-width="0.2" text-anchor="middle">Jul</text>
<text x="365.5" y="420.8" font-family="'Liberation Sans', Arial, sans-serif" font-size="9.6" font-weight="normal" fill="#000" stroke="#000" stroke-width="0.1" text-anchor="middle" letter-spacing="0.5">7</text>
<text x="365.5" y="632.7" font-family="'Liberation Sans', Arial, sans-serif" font-size="9.6" font-weight="normal" fill="#000" stroke="#000" stroke-width="0.1" text-anchor="middle" letter-spacing="0.5">7</text>
<text x="390.5" y="420.8" font-family="'Liberation Sans', Arial, sans-serif" font-size="9.6" font-weight="normal" fill="#000" stroke="#000" stroke-width="0.1" text-anchor="middle" letter-spacing="0.5">14</text>
<text x="390.5" y="632.7" font-family="'Liberation Sans', Arial, sans-serif" font-size="9.6" font-weight="normal" fill="#000" stroke="#000" stroke-width="0.1" text-anchor="middle" letter-spacing="0.5">14</text>
<text x="415.5" y="420.8" font-family="'Liberation Sans', Arial, sans-serif" font-size="9.6" font-weight="normal" fill="#000" stroke="#000" stroke-width="0.1" text-anchor="middle" letter-spacing="0.5">21</text>
<text x="415.5" y="632.7" font-family="'Liberation Sans', Arial, sans-serif" font-size="9.6" font-weight="normal" fill="#000" stroke="#000" stroke-width="0.1" text-anchor="middle" letter-spacing="0.5">21</text>
<text x="440.5" y="420.8" font-family="'Liberation Sans', Arial, sans-serif" font-size="9.6" font-weight="normal" fill="#000" stroke="#000" stroke-width="0.1" text-anchor="middle" letter-spacing="0.5">28</text>
<text x="440.5" y="632.7" font-family="'Liberation Sans', Arial, sans-serif" font-size="9.6" font-weight="normal" fill="#000" stroke="#000" stroke-width="0.1" text-anchor="middle" letter-spacing="0.5">28</text>
<text x="460.5" y="420.8" font-family="'Liberation Sans', Arial, sans-serif" font-size="10.5" font-weight="bold" fill="#000" stroke="#000" stroke-width="0.2" text-anchor="middle">Aug</text>
<text x="460.5" y="632.7" font-family="'Liberation Sans', Arial, sans-serif" font-size="10.5" font-weight="bold" fill="#000" stroke="#000" stroke-width="0.2" text-anchor="middle">Aug</text>
<text x="490.5" y="420.8" font-family="'Liberation Sans', Arial, sans-serif" font-size="9.6" font-weight="normal" fill="#000" stroke="#000" stroke-width="0.1" text-anchor="middle" letter-spacing="0.5">11</text>
<text x="490.5" y="632.7" font-family="'Liberation Sans', Arial, sans-serif" font-size="9.6" font-weight="normal" fill="#000" stroke="#000" stroke-width="0.1" text-anchor="middle" letter-spacing="0.5">11</text>
<text x="515.5" y="420.8" font-family="'Liberation Sans', Arial, sans-serif" font-size="9.6" font-weight="normal" fill="#000" stroke="#000" stroke-width="0.1" text-anchor="middle" letter-spacing="0.5">18</text>
<text x="515.5" y="632.7" font-family="'Liberation Sans', Arial, sans-serif" font-size="9.6" font-weight="normal" fill="#000" stroke="#000" stroke-width="0.1" text-anchor="middle" letter-spacing="0.5">18</text>
<text x="540.5" y="420.8" font-family="'Liberation Sans', Arial, sans-serif" font-size="9.6" font-weight="normal" fill="#000" stroke="#000" stroke-width="0.1" text-anchor="middle" letter-spacing="0.5">25</text>
<text x="540.5" y="632.7" font-family="'Liberation Sans', Arial, sans-serif" font-size="9.6" font-weight="normal" fill="#000" stroke="#000" stroke-width="0.1" text-anchor="middle" letter-spacing="0.5">25</text>
<text x="565.5" y="420.8" font-family="'Liberation Sans', Arial, sans-serif" font-size="10.5" font-weight="bold" fill="#000" stroke="#000" stroke-width="0.2" text-anchor="middle">Sep</text>
<text x="565.5" y="632.7" font-family="'Liberation Sans', Arial, sans-serif" font-size="10.5" font-weight="bold" fill="#000" stroke="#000" stroke-width="0.2" text-anchor="middle">Sep</text>
<text x="590.5" y="420.8" font-family="'Liberation Sans', Arial, sans-serif" font-size="9.6" font-weight="normal" fill="#000" stroke="#000" stroke-width="0.1" text-anchor="middle" letter-spacing="0.5">8</text>
<text x="590.5" y="632.7" font-family="'Liberation Sans', Arial, sans-serif" font-size="9.6" font-weight="normal" fill="#000" stroke="#000" stroke-width="0.1" text-anchor="middle" letter-spacing="0.5">8</text>
<text x="615.5" y="420.8" font-family="'Liberation Sans', Arial, sans-serif" font-size="9.6" font-weight="normal" fill="#000" stroke="#000" stroke-width="0.1" text-anchor="middle" letter-spacing="0.5">15</text>
<text x="615.5" y="632.7" font-family="'Liberation Sans', Arial, sans-serif" font-size="9.6" font-weight="normal" fill="#000" stroke="#000" stroke-width="0.1" text-anchor="middle" letter-spacing="0.5">15</text>
<text x="640.5" y="420.8" font-family="'Liberation Sans', Arial, sans-serif" font-size="9.6" font-weight="normal" fill="#000" stroke="#000" stroke-width="0.1" text-anchor="middle" letter-spacing="0.5">22</text>
<text x="640.5" y="632.7" font-family="'Liberation Sans', Arial, sans-serif" font-size="9.6" font-weight="normal" fill="#000" stroke="#000" stroke-width="0.1" text-anchor="middle" letter-spacing="0.5">22</text>
</svg>
</body></html>
